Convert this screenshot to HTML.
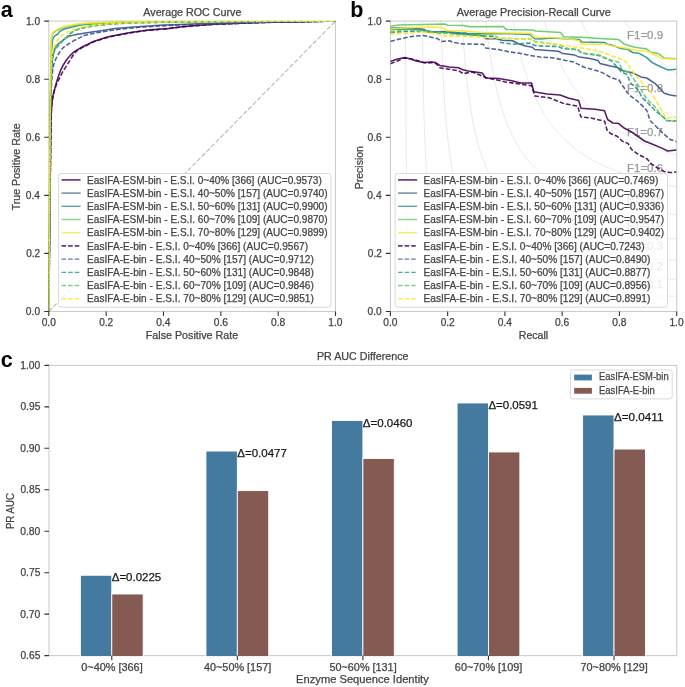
<!DOCTYPE html>
<html><head><meta charset="utf-8"><style>html,body{margin:0;padding:0;background:#fff;overflow:hidden}svg{display:block}</style></head>
<body>
<svg width="685" height="687" viewBox="0 0 685 687" font-family='"Liberation Sans", sans-serif'>
<rect width="685" height="687" fill="#ffffff"/>
<defs>
<clipPath id="ca"><rect x="48.8" y="21.1" width="286.7" height="290.4"/></clipPath>
<clipPath id="cb"><rect x="390.4" y="21.1" width="286.3" height="290.4"/></clipPath>
<filter id="bl" x="0" y="0" width="1" height="1"><feGaussianBlur stdDeviation="0.35"/></filter>
</defs>
<g filter="url(#bl)"><rect width="685" height="687" fill="#ffffff"/>
<text x="0.7" y="16.7" font-size="21.5" font-weight="bold" fill="#000">a</text>
<text x="350.2" y="16.5" font-size="21.5" font-weight="bold" fill="#000">b</text>
<text x="0.8" y="366.8" font-size="21.5" font-weight="bold" fill="#000">c</text>
<rect x="48.8" y="21.1" width="286.7" height="290.4" fill="none" stroke="#cccccc" stroke-width="1.1"/>
<path d="M48.8 311.5 L335.5 21.1" stroke="#bdbdbd" stroke-width="1.2" stroke-dasharray="4.6 2" fill="none"/>
<g clip-path="url(#ca)" fill="none" stroke-width="1.55" stroke-linejoin="round" stroke-opacity="0.9">
<path d="M48.8 311.5 C48.9 302.92 49.17 281.92 49.4 260 C49.63 238.08 49.97 201.67 50.2 180 C50.43 158.33 50.63 141.33 50.8 130 C50.97 118.67 50.9 117.33 51.2 112 C51.5 106.67 51.92 102.23 52.6 98 C53.28 93.77 54.45 89.85 55.3 86.6 C56.15 83.35 56.72 81.42 57.7 78.5 C58.68 75.58 59.85 72.02 61.2 69.1 C62.55 66.18 64.25 63.32 65.8 61 C67.35 58.68 68.95 56.85 70.5 55.2 C72.05 53.55 73.35 52.33 75.1 51.1 C76.85 49.87 79.05 48.85 81 47.8 C82.95 46.75 84.87 45.77 86.8 44.8 C88.73 43.83 90.57 42.83 92.6 42 C94.63 41.17 96.35 40.67 99 39.8 C101.65 38.93 103.77 37.93 108.5 36.8 C113.23 35.67 121.08 34.1 127.4 33 C133.72 31.9 140.07 30.92 146.4 30.2 C152.73 29.48 159.07 29.33 165.4 28.7 C171.73 28.07 176.97 27.1 184.4 26.4 C191.83 25.7 202.28 24.97 210 24.5 C217.72 24.03 222.37 23.93 230.7 23.6 C239.03 23.27 248.45 22.8 260 22.5 C271.55 22.2 287.42 22.03 300 21.8 C312.58 21.57 329.58 21.22 335.5 21.1" stroke="#440154"/>
<path d="M48.8 311.5 C48.88 301.25 49.1 276.92 49.3 250 C49.5 223.08 49.78 175 50 150 C50.22 125 50.38 112.5 50.6 100 C50.82 87.5 51.02 81.67 51.3 75 C51.58 68.33 51.88 63.92 52.3 60 C52.72 56.08 53.07 53.93 53.8 51.5 C54.53 49.07 55.53 47 56.7 45.4 C57.87 43.8 59.35 43.07 60.8 41.9 C62.25 40.73 63.95 39.38 65.4 38.4 C66.85 37.42 67.55 36.68 69.5 36 C71.45 35.32 74.52 34.78 77.1 34.3 C79.68 33.82 81.35 33.63 85 33.1 C88.65 32.57 93.5 31.9 99 31.1 C104.5 30.3 108.52 29.25 118 28.3 C127.48 27.35 140.57 26.2 155.9 25.4 C171.23 24.6 192.65 24.03 210 23.5 C227.35 22.97 239.08 22.6 260 22.2 C280.92 21.8 322.92 21.28 335.5 21.1" stroke="#3b528b"/>
<path d="M48.8 311.5 C48.88 301.25 49.12 276.92 49.3 250 C49.48 223.08 49.7 175 49.9 150 C50.1 125 50.28 114.17 50.5 100 C50.72 85.83 50.97 73.67 51.2 65 C51.43 56.33 51.67 52.17 51.9 48 C52.13 43.83 52.2 41.97 52.6 40 C53 38.03 53.43 37.18 54.3 36.2 C55.17 35.22 56.92 34.87 57.8 34.1 C58.68 33.33 58.52 32.45 59.6 31.6 C60.68 30.75 62.35 29.72 64.3 29 C66.25 28.28 67.85 28.03 71.3 27.3 C74.75 26.57 76.88 25.4 85 24.6 C93.12 23.8 100.83 23 120 22.5 C139.17 22 164.08 21.83 200 21.6 C235.92 21.37 312.92 21.18 335.5 21.1" stroke="#21918c"/>
<path d="M48.8 311.5 C48.88 301.25 49.12 276.92 49.3 250 C49.48 223.08 49.72 175 49.9 150 C50.08 125 50.23 115 50.4 100 C50.57 85 50.73 70 50.9 60 C51.07 50 51.13 44.33 51.4 40 C51.67 35.67 51.62 35.6 52.5 34 C53.38 32.4 55.03 31.4 56.7 30.4 C58.37 29.4 60.55 28.67 62.5 28 C64.45 27.33 66.45 26.87 68.4 26.4 C70.35 25.93 71.43 25.63 74.2 25.2 C76.97 24.77 77.37 24.28 85 23.8 C92.63 23.32 100.83 22.68 120 22.3 C139.17 21.92 164.08 21.7 200 21.5 C235.92 21.3 312.92 21.17 335.5 21.1" stroke="#5ec962"/>
<path d="M48.8 311.5 C48.88 301.25 49.12 276.92 49.3 250 C49.48 223.08 49.72 175 49.9 150 C50.08 125 50.23 115 50.4 100 C50.57 85 50.75 69.67 50.9 60 C51.05 50.33 51.08 46.42 51.3 42 C51.52 37.58 51.3 35.57 52.2 33.5 C53.1 31.43 54.98 30.63 56.7 29.6 C58.42 28.57 60.55 27.93 62.5 27.3 C64.45 26.67 66.45 26.25 68.4 25.8 C70.35 25.35 71.43 25.03 74.2 24.6 C76.97 24.17 77.37 23.63 85 23.2 C92.63 22.77 100.83 22.3 120 22 C139.17 21.7 164.08 21.55 200 21.4 C235.92 21.25 312.92 21.15 335.5 21.1" stroke="#fde725"/>
<path d="M48.8 311.5 C48.9 302.92 49.15 281.92 49.4 260 C49.65 238.08 50.03 201.67 50.3 180 C50.57 158.33 50.75 142.45 51 130 C51.25 117.55 51.27 111.75 51.8 105.3 C52.33 98.85 53.22 95.18 54.2 91.3 C55.18 87.42 56.35 85.12 57.7 82 C59.05 78.88 60.57 75.72 62.3 72.6 C64.03 69.48 66.15 66.4 68.1 63.3 C70.05 60.2 72.43 56.13 74 54 C75.57 51.87 76.33 51.47 77.5 50.5 C78.67 49.53 79.45 49.05 81 48.2 C82.55 47.35 84.87 46.4 86.8 45.4 C88.73 44.4 90.57 43.08 92.6 42.2 C94.63 41.32 96.35 40.93 99 40.1 C101.65 39.27 103.77 38.32 108.5 37.2 C113.23 36.08 121.08 34.52 127.4 33.4 C133.72 32.28 140.07 31.25 146.4 30.5 C152.73 29.75 159.07 29.53 165.4 28.9 C171.73 28.27 176.97 27.38 184.4 26.7 C191.83 26.02 202.28 25.28 210 24.8 C217.72 24.32 222.37 24.17 230.7 23.8 C239.03 23.43 248.45 22.93 260 22.6 C271.55 22.27 287.42 22.05 300 21.8 C312.58 21.55 329.58 21.22 335.5 21.1" stroke="#440154" stroke-dasharray="4.6 2"/>
<path d="M48.8 311.5 C48.88 301.25 49.1 275.25 49.3 250 C49.5 224.75 49.78 181.67 50 160 C50.22 138.33 50.38 131.67 50.6 120 C50.82 108.33 51 97.9 51.3 90 C51.6 82.1 51.92 77.05 52.4 72.6 C52.88 68.15 53.32 66.2 54.2 63.3 C55.08 60.4 56.33 57.67 57.7 55.2 C59.07 52.73 60.85 50.2 62.4 48.5 C63.95 46.8 65.07 46.32 67 45 C68.93 43.68 71.83 41.83 74 40.6 C76.17 39.37 78.17 38.5 80 37.6 C81.83 36.7 81.67 36.1 85 35.2 C88.33 34.3 94.17 33.18 100 32.2 C105.83 31.22 110.67 30.3 120 29.3 C129.33 28.3 141 27.08 156 26.2 C171 25.32 192.67 24.62 210 24 C227.33 23.38 239.08 22.98 260 22.5 C280.92 22.02 322.92 21.33 335.5 21.1" stroke="#3b528b" stroke-dasharray="4.6 2"/>
<path d="M48.8 311.5 C48.88 301.25 49.12 276.92 49.3 250 C49.48 223.08 49.7 175 49.9 150 C50.1 125 50.28 112.5 50.5 100 C50.72 87.5 50.9 81.67 51.2 75 C51.5 68.33 51.73 64 52.3 60 C52.87 56 53.58 53.4 54.6 51 C55.62 48.6 57.08 47.22 58.4 45.6 C59.72 43.98 61.13 42.7 62.5 41.3 C63.87 39.9 65.13 38.62 66.6 37.2 C68.07 35.78 69.55 34.03 71.3 32.8 C73.05 31.57 74.82 30.68 77.1 29.8 C79.38 28.92 81.18 28.27 85 27.5 C88.82 26.73 92.5 25.93 100 25.2 C107.5 24.47 113.33 23.67 130 23.1 C146.67 22.53 165.75 22.13 200 21.8 C234.25 21.47 312.92 21.22 335.5 21.1" stroke="#21918c" stroke-dasharray="4.6 2"/>
<path d="M48.8 311.5 C48.88 301.25 49.12 276.92 49.3 250 C49.48 223.08 49.7 175 49.9 150 C50.1 125 50.3 113 50.5 100 C50.7 87 50.88 79.08 51.1 72 C51.32 64.92 51.28 61.08 51.8 57.5 C52.32 53.92 53.22 52.63 54.2 50.5 C55.18 48.37 56.32 46.37 57.7 44.7 C59.08 43.03 61.02 41.78 62.5 40.5 C63.98 39.22 65.13 38.33 66.6 37 C68.07 35.67 69.55 33.73 71.3 32.5 C73.05 31.27 74.82 30.47 77.1 29.6 C79.38 28.73 81.18 28.07 85 27.3 C88.82 26.53 92.5 25.72 100 25 C107.5 24.28 113.33 23.55 130 23 C146.67 22.45 165.75 22.02 200 21.7 C234.25 21.38 312.92 21.2 335.5 21.1" stroke="#5ec962" stroke-dasharray="4.6 2"/>
<path d="M48.8 311.5 C48.88 301.25 49.12 276.92 49.3 250 C49.48 223.08 49.7 176.67 49.9 150 C50.1 123.33 50.3 103.67 50.5 90 C50.7 76.33 50.78 74.33 51.1 68 C51.42 61.67 51.95 55.38 52.4 52 C52.85 48.62 53.08 49.48 53.8 47.7 C54.52 45.92 55.53 43.15 56.7 41.3 C57.87 39.45 59.35 37.97 60.8 36.6 C62.25 35.23 63.65 34.17 65.4 33.1 C67.15 32.03 68.87 31.12 71.3 30.2 C73.73 29.28 77.72 28.18 80 27.6 C82.28 27.02 81.67 27.22 85 26.7 C88.33 26.18 92.5 25.15 100 24.5 C107.5 23.85 113.33 23.27 130 22.8 C146.67 22.33 165.75 21.98 200 21.7 C234.25 21.42 312.92 21.2 335.5 21.1" stroke="#fde725" stroke-dasharray="4.6 2"/>
</g>
<rect x="390.4" y="21.1" width="286.3" height="290.4" fill="none" stroke="#cccccc" stroke-width="1.1"/>
<g clip-path="url(#cb)"><path d="M405.47 21.1 L406.15 151.95 L406.83 198.61 L407.51 222.55 L408.19 237.12 L408.87 246.92 L409.55 253.96 L410.23 259.27 L410.91 263.41 L411.59 266.73 L412.27 269.45 L412.95 271.73 L413.63 273.65 L414.31 275.31 L414.99 276.74 L415.67 278 L416.34 279.11 L417.02 280.09 L417.7 280.98 L418.38 281.77 L419.06 282.49 L419.74 283.15 L420.42 283.75 L421.1 284.3 L421.78 284.8 L422.46 285.27 L423.14 285.7 L423.82 286.1 L424.5 286.48 L425.18 286.82 L425.86 287.15 L426.54 287.46 L427.22 287.74 L427.9 288.02 L428.58 288.27 L429.26 288.51 L429.94 288.74 L430.62 288.96 L431.3 289.16 L431.98 289.36 L432.66 289.54 L433.34 289.72 L434.02 289.89 L434.7 290.05 L435.38 290.2 L436.06 290.35 L436.74 290.49 L437.42 290.62 L438.1 290.75 L438.78 290.88 L439.46 291 L440.14 291.11 L440.82 291.22 L441.5 291.33 L442.18 291.43 L442.86 291.53 L443.54 291.63 L444.22 291.72 L444.9 291.81 L445.58 291.89 L446.26 291.98 L446.93 292.06 L447.61 292.13 L448.29 292.21 L448.97 292.28 L449.65 292.35 L450.33 292.42 L451.01 292.49 L451.69 292.56 L452.37 292.62 L453.05 292.68 L453.73 292.74 L454.41 292.8 L455.09 292.85 L455.77 292.91 L456.45 292.96 L457.13 293.01 L457.81 293.07 L458.49 293.11 L459.17 293.16 L459.85 293.21 L460.53 293.26 L461.21 293.3 L461.89 293.34 L462.57 293.39 L463.25 293.43 L463.93 293.47 L464.61 293.51 L465.29 293.55 L465.97 293.59 L466.65 293.62 L467.33 293.66 L468.01 293.7 L468.69 293.73 L469.37 293.77 L470.05 293.8 L470.73 293.83 L471.41 293.86 L472.09 293.89 L472.77 293.93 L473.45 293.96 L474.13 293.99 L474.81 294.01 L475.49 294.04 L476.17 294.07 L476.85 294.1 L477.52 294.13 L478.2 294.15 L478.88 294.18 L479.56 294.2 L480.24 294.23 L480.92 294.25 L481.6 294.28 L482.28 294.3 L482.96 294.32 L483.64 294.35 L484.32 294.37 L485 294.39 L485.68 294.41 L486.36 294.43 L487.04 294.46 L487.72 294.48 L488.4 294.5 L489.08 294.52 L489.76 294.54 L490.44 294.56 L491.12 294.57 L491.8 294.59 L492.48 294.61 L493.16 294.63 L493.84 294.65 L494.52 294.67 L495.2 294.68 L495.88 294.7 L496.56 294.72 L497.24 294.73 L497.92 294.75 L498.6 294.77 L499.28 294.78 L499.96 294.8 L500.64 294.81 L501.32 294.83 L502 294.84 L502.68 294.86 L503.36 294.87 L504.04 294.89 L504.72 294.9 L505.4 294.92 L506.08 294.93 L506.76 294.94 L507.44 294.96 L508.11 294.97 L508.79 294.98 L509.47 295 L510.15 295.01 L510.83 295.02 L511.51 295.03 L512.19 295.05 L512.87 295.06 L513.55 295.07 L514.23 295.08 L514.91 295.09 L515.59 295.11 L516.27 295.12 L516.95 295.13 L517.63 295.14 L518.31 295.15 L518.99 295.16 L519.67 295.17 L520.35 295.18 L521.03 295.19 L521.71 295.2 L522.39 295.21 L523.07 295.22 L523.75 295.23 L524.43 295.24 L525.11 295.25 L525.79 295.26 L526.47 295.27 L527.15 295.28 L527.83 295.29 L528.51 295.3 L529.19 295.31 L529.87 295.32 L530.55 295.33 L531.23 295.34 L531.91 295.35 L532.59 295.35 L533.27 295.36 L533.95 295.37 L534.63 295.38 L535.31 295.39 L535.99 295.4 L536.67 295.4 L537.35 295.41 L538.03 295.42 L538.7 295.43 L539.38 295.44 L540.06 295.44 L540.74 295.45 L541.42 295.46 L542.1 295.47 L542.78 295.47 L543.46 295.48 L544.14 295.49 L544.82 295.5 L545.5 295.5 L546.18 295.51 L546.86 295.52 L547.54 295.52 L548.22 295.53 L548.9 295.54 L549.58 295.55 L550.26 295.55 L550.94 295.56 L551.62 295.57 L552.3 295.57 L552.98 295.58 L553.66 295.58 L554.34 295.59 L555.02 295.6 L555.7 295.6 L556.38 295.61 L557.06 295.62 L557.74 295.62 L558.42 295.63 L559.1 295.63 L559.78 295.64 L560.46 295.65 L561.14 295.65 L561.82 295.66 L562.5 295.66 L563.18 295.67 L563.86 295.67 L564.54 295.68 L565.22 295.68 L565.9 295.69 L566.58 295.7 L567.26 295.7 L567.94 295.71 L568.62 295.71 L569.3 295.72 L569.97 295.72 L570.65 295.73 L571.33 295.73 L572.01 295.74 L572.69 295.74 L573.37 295.75 L574.05 295.75 L574.73 295.76 L575.41 295.76 L576.09 295.77 L576.77 295.77 L577.45 295.78 L578.13 295.78 L578.81 295.79 L579.49 295.79 L580.17 295.8 L580.85 295.8 L581.53 295.8 L582.21 295.81 L582.89 295.81 L583.57 295.82 L584.25 295.82 L584.93 295.83 L585.61 295.83 L586.29 295.84 L586.97 295.84 L587.65 295.84 L588.33 295.85 L589.01 295.85 L589.69 295.86 L590.37 295.86 L591.05 295.86 L591.73 295.87 L592.41 295.87 L593.09 295.88 L593.77 295.88 L594.45 295.88 L595.13 295.89 L595.81 295.89 L596.49 295.9 L597.17 295.9 L597.85 295.9 L598.53 295.91 L599.21 295.91 L599.89 295.92 L600.56 295.92 L601.24 295.92 L601.92 295.93 L602.6 295.93 L603.28 295.93 L603.96 295.94 L604.64 295.94 L605.32 295.94 L606 295.95 L606.68 295.95 L607.36 295.95 L608.04 295.96 L608.72 295.96 L609.4 295.96 L610.08 295.97 L610.76 295.97 L611.44 295.97 L612.12 295.98 L612.8 295.98 L613.48 295.98 L614.16 295.99 L614.84 295.99 L615.52 295.99 L616.2 296 L616.88 296 L617.56 296 L618.24 296.01 L618.92 296.01 L619.6 296.01 L620.28 296.02 L620.96 296.02 L621.64 296.02 L622.32 296.02 L623 296.03 L623.68 296.03 L624.36 296.03 L625.04 296.04 L625.72 296.04 L626.4 296.04 L627.08 296.05 L627.76 296.05 L628.44 296.05 L629.12 296.05 L629.8 296.06 L630.48 296.06 L631.15 296.06 L631.83 296.06 L632.51 296.07 L633.19 296.07 L633.87 296.07 L634.55 296.08 L635.23 296.08 L635.91 296.08 L636.59 296.08 L637.27 296.09 L637.95 296.09 L638.63 296.09 L639.31 296.09 L639.99 296.1 L640.67 296.1 L641.35 296.1 L642.03 296.1 L642.71 296.11 L643.39 296.11 L644.07 296.11 L644.75 296.11 L645.43 296.12 L646.11 296.12 L646.79 296.12 L647.47 296.12 L648.15 296.13 L648.83 296.13 L649.51 296.13 L650.19 296.13 L650.87 296.14 L651.55 296.14 L652.23 296.14 L652.91 296.14 L653.59 296.14 L654.27 296.15 L654.95 296.15 L655.63 296.15 L656.31 296.15 L656.99 296.16 L657.67 296.16 L658.35 296.16 L659.03 296.16 L659.71 296.16 L660.39 296.17 L661.07 296.17 L661.74 296.17 L662.42 296.17 L663.1 296.18 L663.78 296.18 L664.46 296.18 L665.14 296.18 L665.82 296.18 L666.5 296.19 L667.18 296.19 L667.86 296.19 L668.54 296.19 L669.22 296.19 L669.9 296.2 L670.58 296.2 L671.26 296.2 L671.94 296.2 L672.62 296.2 L673.3 296.21 L673.98 296.21 L674.66 296.21 L675.34 296.21 L676.02 296.21 L676.7 296.22 M422.21 21.1 L422.85 64.75 L423.49 95.91 L424.12 119.26 L424.76 137.42 L425.4 151.94 L426.04 163.82 L426.68 173.72 L427.31 182.09 L427.95 189.27 L428.59 195.49 L429.23 200.93 L429.86 205.73 L430.5 209.99 L431.14 213.81 L431.78 217.24 L432.42 220.35 L433.05 223.17 L433.69 225.75 L434.33 228.12 L434.97 230.29 L435.61 232.3 L436.24 234.16 L436.88 235.88 L437.52 237.49 L438.16 238.99 L438.79 240.39 L439.43 241.71 L440.07 242.94 L440.71 244.11 L441.35 245.2 L441.98 246.24 L442.62 247.22 L443.26 248.15 L443.9 249.03 L444.53 249.86 L445.17 250.66 L445.81 251.41 L446.45 252.14 L447.09 252.83 L447.72 253.48 L448.36 254.11 L449 254.72 L449.64 255.3 L450.28 255.85 L450.91 256.38 L451.55 256.89 L452.19 257.39 L452.83 257.86 L453.46 258.31 L454.1 258.75 L454.74 259.18 L455.38 259.59 L456.02 259.98 L456.65 260.36 L457.29 260.73 L457.93 261.09 L458.57 261.43 L459.2 261.76 L459.84 262.09 L460.48 262.4 L461.12 262.71 L461.76 263 L462.39 263.29 L463.03 263.56 L463.67 263.83 L464.31 264.1 L464.94 264.35 L465.58 264.6 L466.22 264.84 L466.86 265.08 L467.5 265.31 L468.13 265.53 L468.77 265.75 L469.41 265.96 L470.05 266.16 L470.69 266.36 L471.32 266.56 L471.96 266.75 L472.6 266.94 L473.24 267.12 L473.87 267.3 L474.51 267.47 L475.15 267.65 L475.79 267.81 L476.43 267.97 L477.06 268.13 L477.7 268.29 L478.34 268.44 L478.98 268.59 L479.61 268.74 L480.25 268.88 L480.89 269.02 L481.53 269.16 L482.17 269.29 L482.8 269.42 L483.44 269.55 L484.08 269.68 L484.72 269.8 L485.35 269.92 L485.99 270.04 L486.63 270.16 L487.27 270.28 L487.91 270.39 L488.54 270.5 L489.18 270.61 L489.82 270.72 L490.46 270.82 L491.1 270.92 L491.73 271.02 L492.37 271.12 L493.01 271.22 L493.65 271.32 L494.28 271.41 L494.92 271.5 L495.56 271.6 L496.2 271.69 L496.84 271.77 L497.47 271.86 L498.11 271.95 L498.75 272.03 L499.39 272.11 L500.02 272.19 L500.66 272.28 L501.3 272.35 L501.94 272.43 L502.58 272.51 L503.21 272.58 L503.85 272.66 L504.49 272.73 L505.13 272.8 L505.77 272.87 L506.4 272.94 L507.04 273.01 L507.68 273.08 L508.32 273.15 L508.95 273.21 L509.59 273.28 L510.23 273.34 L510.87 273.41 L511.51 273.47 L512.14 273.53 L512.78 273.59 L513.42 273.65 L514.06 273.71 L514.69 273.77 L515.33 273.83 L515.97 273.88 L516.61 273.94 L517.25 273.99 L517.88 274.05 L518.52 274.1 L519.16 274.16 L519.8 274.21 L520.43 274.26 L521.07 274.31 L521.71 274.36 L522.35 274.41 L522.99 274.46 L523.62 274.51 L524.26 274.56 L524.9 274.61 L525.54 274.65 L526.18 274.7 L526.81 274.75 L527.45 274.79 L528.09 274.84 L528.73 274.88 L529.36 274.92 L530 274.97 L530.64 275.01 L531.28 275.05 L531.92 275.09 L532.55 275.14 L533.19 275.18 L533.83 275.22 L534.47 275.26 L535.1 275.3 L535.74 275.34 L536.38 275.38 L537.02 275.41 L537.66 275.45 L538.29 275.49 L538.93 275.53 L539.57 275.56 L540.21 275.6 L540.85 275.63 L541.48 275.67 L542.12 275.71 L542.76 275.74 L543.4 275.77 L544.03 275.81 L544.67 275.84 L545.31 275.88 L545.95 275.91 L546.59 275.94 L547.22 275.97 L547.86 276.01 L548.5 276.04 L549.14 276.07 L549.77 276.1 L550.41 276.13 L551.05 276.16 L551.69 276.19 L552.33 276.22 L552.96 276.25 L553.6 276.28 L554.24 276.31 L554.88 276.34 L555.51 276.37 L556.15 276.4 L556.79 276.42 L557.43 276.45 L558.07 276.48 L558.7 276.51 L559.34 276.53 L559.98 276.56 L560.62 276.59 L561.26 276.61 L561.89 276.64 L562.53 276.67 L563.17 276.69 L563.81 276.72 L564.44 276.74 L565.08 276.77 L565.72 276.79 L566.36 276.82 L567 276.84 L567.63 276.87 L568.27 276.89 L568.91 276.91 L569.55 276.94 L570.18 276.96 L570.82 276.98 L571.46 277.01 L572.1 277.03 L572.74 277.05 L573.37 277.07 L574.01 277.1 L574.65 277.12 L575.29 277.14 L575.92 277.16 L576.56 277.18 L577.2 277.2 L577.84 277.22 L578.48 277.25 L579.11 277.27 L579.75 277.29 L580.39 277.31 L581.03 277.33 L581.67 277.35 L582.3 277.37 L582.94 277.39 L583.58 277.41 L584.22 277.43 L584.85 277.45 L585.49 277.47 L586.13 277.48 L586.77 277.5 L587.41 277.52 L588.04 277.54 L588.68 277.56 L589.32 277.58 L589.96 277.6 L590.59 277.61 L591.23 277.63 L591.87 277.65 L592.51 277.67 L593.15 277.68 L593.78 277.7 L594.42 277.72 L595.06 277.74 L595.7 277.75 L596.34 277.77 L596.97 277.79 L597.61 277.8 L598.25 277.82 L598.89 277.84 L599.52 277.85 L600.16 277.87 L600.8 277.89 L601.44 277.9 L602.08 277.92 L602.71 277.93 L603.35 277.95 L603.99 277.96 L604.63 277.98 L605.26 278 L605.9 278.01 L606.54 278.03 L607.18 278.04 L607.82 278.06 L608.45 278.07 L609.09 278.09 L609.73 278.1 L610.37 278.11 L611 278.13 L611.64 278.14 L612.28 278.16 L612.92 278.17 L613.56 278.19 L614.19 278.2 L614.83 278.21 L615.47 278.23 L616.11 278.24 L616.75 278.25 L617.38 278.27 L618.02 278.28 L618.66 278.3 L619.3 278.31 L619.93 278.32 L620.57 278.33 L621.21 278.35 L621.85 278.36 L622.49 278.37 L623.12 278.39 L623.76 278.4 L624.4 278.41 L625.04 278.42 L625.67 278.44 L626.31 278.45 L626.95 278.46 L627.59 278.47 L628.23 278.49 L628.86 278.5 L629.5 278.51 L630.14 278.52 L630.78 278.53 L631.42 278.55 L632.05 278.56 L632.69 278.57 L633.33 278.58 L633.97 278.59 L634.6 278.6 L635.24 278.61 L635.88 278.63 L636.52 278.64 L637.16 278.65 L637.79 278.66 L638.43 278.67 L639.07 278.68 L639.71 278.69 L640.34 278.7 L640.98 278.71 L641.62 278.72 L642.26 278.74 L642.9 278.75 L643.53 278.76 L644.17 278.77 L644.81 278.78 L645.45 278.79 L646.08 278.8 L646.72 278.81 L647.36 278.82 L648 278.83 L648.64 278.84 L649.27 278.85 L649.91 278.86 L650.55 278.87 L651.19 278.88 L651.83 278.89 L652.46 278.9 L653.1 278.91 L653.74 278.92 L654.38 278.93 L655.01 278.94 L655.65 278.95 L656.29 278.96 L656.93 278.97 L657.57 278.97 L658.2 278.98 L658.84 278.99 L659.48 279 L660.12 279.01 L660.75 279.02 L661.39 279.03 L662.03 279.04 L662.67 279.05 L663.31 279.06 L663.94 279.07 L664.58 279.07 L665.22 279.08 L665.86 279.09 L666.49 279.1 L667.13 279.11 L667.77 279.12 L668.41 279.13 L669.05 279.13 L669.68 279.14 L670.32 279.15 L670.96 279.16 L671.6 279.17 L672.24 279.18 L672.87 279.18 L673.51 279.19 L674.15 279.2 L674.79 279.21 L675.42 279.22 L676.06 279.23 L676.7 279.23 M440.92 21.1 L441.51 38.95 L442.11 54.4 L442.7 67.89 L443.29 79.78 L443.88 90.34 L444.47 99.77 L445.06 108.26 L445.65 115.92 L446.24 122.89 L446.83 129.24 L447.42 135.07 L448.01 140.42 L448.61 145.36 L449.2 149.93 L449.79 154.17 L450.38 158.11 L450.97 161.8 L451.56 165.24 L452.15 168.47 L452.74 171.5 L453.33 174.35 L453.92 177.04 L454.51 179.57 L455.11 181.97 L455.7 184.25 L456.29 186.4 L456.88 188.45 L457.47 190.4 L458.06 192.25 L458.65 194.02 L459.24 195.7 L459.83 197.32 L460.42 198.86 L461.01 200.33 L461.61 201.75 L462.2 203.1 L462.79 204.4 L463.38 205.65 L463.97 206.86 L464.56 208.01 L465.15 209.12 L465.74 210.2 L466.33 211.23 L466.92 212.23 L467.51 213.19 L468.11 214.12 L468.7 215.02 L469.29 215.89 L469.88 216.74 L470.47 217.55 L471.06 218.34 L471.65 219.11 L472.24 219.85 L472.83 220.57 L473.42 221.27 L474.01 221.94 L474.61 222.6 L475.2 223.24 L475.79 223.86 L476.38 224.47 L476.97 225.06 L477.56 225.63 L478.15 226.19 L478.74 226.73 L479.33 227.26 L479.92 227.78 L480.52 228.28 L481.11 228.77 L481.7 229.25 L482.29 229.72 L482.88 230.17 L483.47 230.62 L484.06 231.05 L484.65 231.48 L485.24 231.89 L485.83 232.3 L486.42 232.7 L487.02 233.08 L487.61 233.46 L488.2 233.84 L488.79 234.2 L489.38 234.56 L489.97 234.9 L490.56 235.24 L491.15 235.58 L491.74 235.91 L492.33 236.23 L492.92 236.54 L493.52 236.85 L494.11 237.15 L494.7 237.45 L495.29 237.74 L495.88 238.03 L496.47 238.31 L497.06 238.58 L497.65 238.85 L498.24 239.11 L498.83 239.37 L499.42 239.63 L500.02 239.88 L500.61 240.13 L501.2 240.37 L501.79 240.61 L502.38 240.84 L502.97 241.07 L503.56 241.3 L504.15 241.52 L504.74 241.74 L505.33 241.95 L505.92 242.17 L506.52 242.37 L507.11 242.58 L507.7 242.78 L508.29 242.98 L508.88 243.17 L509.47 243.37 L510.06 243.56 L510.65 243.74 L511.24 243.93 L511.83 244.11 L512.42 244.28 L513.02 244.46 L513.61 244.63 L514.2 244.8 L514.79 244.97 L515.38 245.14 L515.97 245.3 L516.56 245.46 L517.15 245.62 L517.74 245.77 L518.33 245.93 L518.92 246.08 L519.52 246.23 L520.11 246.38 L520.7 246.52 L521.29 246.67 L521.88 246.81 L522.47 246.95 L523.06 247.09 L523.65 247.23 L524.24 247.36 L524.83 247.49 L525.42 247.62 L526.02 247.75 L526.61 247.88 L527.2 248.01 L527.79 248.13 L528.38 248.26 L528.97 248.38 L529.56 248.5 L530.15 248.62 L530.74 248.73 L531.33 248.85 L531.92 248.96 L532.52 249.08 L533.11 249.19 L533.7 249.3 L534.29 249.41 L534.88 249.52 L535.47 249.62 L536.06 249.73 L536.65 249.83 L537.24 249.94 L537.83 250.04 L538.43 250.14 L539.02 250.24 L539.61 250.34 L540.2 250.43 L540.79 250.53 L541.38 250.62 L541.97 250.72 L542.56 250.81 L543.15 250.9 L543.74 251 L544.33 251.09 L544.93 251.17 L545.52 251.26 L546.11 251.35 L546.7 251.44 L547.29 251.52 L547.88 251.61 L548.47 251.69 L549.06 251.77 L549.65 251.86 L550.24 251.94 L550.83 252.02 L551.43 252.1 L552.02 252.18 L552.61 252.25 L553.2 252.33 L553.79 252.41 L554.38 252.48 L554.97 252.56 L555.56 252.63 L556.15 252.71 L556.74 252.78 L557.33 252.85 L557.93 252.92 L558.52 253 L559.11 253.07 L559.7 253.13 L560.29 253.2 L560.88 253.27 L561.47 253.34 L562.06 253.41 L562.65 253.47 L563.24 253.54 L563.83 253.6 L564.43 253.67 L565.02 253.73 L565.61 253.8 L566.2 253.86 L566.79 253.92 L567.38 253.98 L567.97 254.04 L568.56 254.11 L569.15 254.17 L569.74 254.23 L570.33 254.28 L570.93 254.34 L571.52 254.4 L572.11 254.46 L572.7 254.52 L573.29 254.57 L573.88 254.63 L574.47 254.68 L575.06 254.74 L575.65 254.79 L576.24 254.85 L576.83 254.9 L577.43 254.96 L578.02 255.01 L578.61 255.06 L579.2 255.11 L579.79 255.17 L580.38 255.22 L580.97 255.27 L581.56 255.32 L582.15 255.37 L582.74 255.42 L583.33 255.47 L583.93 255.52 L584.52 255.57 L585.11 255.61 L585.7 255.66 L586.29 255.71 L586.88 255.76 L587.47 255.8 L588.06 255.85 L588.65 255.9 L589.24 255.94 L589.83 255.99 L590.43 256.03 L591.02 256.08 L591.61 256.12 L592.2 256.16 L592.79 256.21 L593.38 256.25 L593.97 256.29 L594.56 256.34 L595.15 256.38 L595.74 256.42 L596.34 256.46 L596.93 256.5 L597.52 256.55 L598.11 256.59 L598.7 256.63 L599.29 256.67 L599.88 256.71 L600.47 256.75 L601.06 256.79 L601.65 256.83 L602.24 256.86 L602.84 256.9 L603.43 256.94 L604.02 256.98 L604.61 257.02 L605.2 257.05 L605.79 257.09 L606.38 257.13 L606.97 257.17 L607.56 257.2 L608.15 257.24 L608.74 257.27 L609.34 257.31 L609.93 257.35 L610.52 257.38 L611.11 257.42 L611.7 257.45 L612.29 257.49 L612.88 257.52 L613.47 257.55 L614.06 257.59 L614.65 257.62 L615.24 257.66 L615.84 257.69 L616.43 257.72 L617.02 257.76 L617.61 257.79 L618.2 257.82 L618.79 257.85 L619.38 257.88 L619.97 257.92 L620.56 257.95 L621.15 257.98 L621.74 258.01 L622.34 258.04 L622.93 258.07 L623.52 258.1 L624.11 258.13 L624.7 258.16 L625.29 258.19 L625.88 258.22 L626.47 258.25 L627.06 258.28 L627.65 258.31 L628.24 258.34 L628.84 258.37 L629.43 258.4 L630.02 258.43 L630.61 258.46 L631.2 258.49 L631.79 258.51 L632.38 258.54 L632.97 258.57 L633.56 258.6 L634.15 258.62 L634.74 258.65 L635.34 258.68 L635.93 258.71 L636.52 258.73 L637.11 258.76 L637.7 258.79 L638.29 258.81 L638.88 258.84 L639.47 258.86 L640.06 258.89 L640.65 258.92 L641.24 258.94 L641.84 258.97 L642.43 258.99 L643.02 259.02 L643.61 259.04 L644.2 259.07 L644.79 259.09 L645.38 259.12 L645.97 259.14 L646.56 259.17 L647.15 259.19 L647.74 259.21 L648.34 259.24 L648.93 259.26 L649.52 259.29 L650.11 259.31 L650.7 259.33 L651.29 259.36 L651.88 259.38 L652.47 259.4 L653.06 259.43 L653.65 259.45 L654.25 259.47 L654.84 259.49 L655.43 259.52 L656.02 259.54 L656.61 259.56 L657.2 259.58 L657.79 259.61 L658.38 259.63 L658.97 259.65 L659.56 259.67 L660.15 259.69 L660.75 259.71 L661.34 259.73 L661.93 259.76 L662.52 259.78 L663.11 259.8 L663.7 259.82 L664.29 259.84 L664.88 259.86 L665.47 259.88 L666.06 259.9 L666.65 259.92 L667.25 259.94 L667.84 259.96 L668.43 259.98 L669.02 260 L669.61 260.02 L670.2 260.04 L670.79 260.06 L671.38 260.08 L671.97 260.1 L672.56 260.12 L673.15 260.14 L673.75 260.16 L674.34 260.18 L674.93 260.2 L675.52 260.22 L676.11 260.23 L676.7 260.25 M461.98 21.1 L462.51 29.52 L463.05 37.35 L463.59 44.65 L464.13 51.47 L464.67 57.86 L465.2 63.86 L465.74 69.5 L466.28 74.82 L466.82 79.83 L467.36 84.58 L467.89 89.07 L468.43 93.32 L468.97 97.37 L469.51 101.21 L470.05 104.87 L470.59 108.36 L471.12 111.68 L471.66 114.86 L472.2 117.9 L472.74 120.81 L473.28 123.59 L473.81 126.27 L474.35 128.83 L474.89 131.29 L475.43 133.66 L475.97 135.93 L476.51 138.13 L477.04 140.24 L477.58 142.27 L478.12 144.24 L478.66 146.13 L479.2 147.96 L479.73 149.73 L480.27 151.44 L480.81 153.1 L481.35 154.7 L481.89 156.25 L482.43 157.76 L482.96 159.22 L483.5 160.63 L484.04 162 L484.58 163.34 L485.12 164.63 L485.65 165.89 L486.19 167.11 L486.73 168.3 L487.27 169.46 L487.81 170.58 L488.34 171.68 L488.88 172.74 L489.42 173.78 L489.96 174.8 L490.5 175.79 L491.04 176.75 L491.57 177.69 L492.11 178.61 L492.65 179.5 L493.19 180.37 L493.73 181.23 L494.26 182.06 L494.8 182.88 L495.34 183.67 L495.88 184.45 L496.42 185.21 L496.96 185.96 L497.49 186.68 L498.03 187.4 L498.57 188.1 L499.11 188.78 L499.65 189.45 L500.18 190.1 L500.72 190.75 L501.26 191.37 L501.8 191.99 L502.34 192.6 L502.88 193.19 L503.41 193.77 L503.95 194.34 L504.49 194.9 L505.03 195.45 L505.57 195.99 L506.1 196.52 L506.64 197.04 L507.18 197.55 L507.72 198.05 L508.26 198.54 L508.79 199.02 L509.33 199.5 L509.87 199.96 L510.41 200.42 L510.95 200.87 L511.49 201.31 L512.02 201.75 L512.56 202.18 L513.1 202.6 L513.64 203.01 L514.18 203.42 L514.71 203.82 L515.25 204.22 L515.79 204.61 L516.33 204.99 L516.87 205.37 L517.41 205.74 L517.94 206.1 L518.48 206.46 L519.02 206.82 L519.56 207.16 L520.1 207.51 L520.63 207.85 L521.17 208.18 L521.71 208.51 L522.25 208.83 L522.79 209.15 L523.33 209.47 L523.86 209.78 L524.4 210.08 L524.94 210.39 L525.48 210.68 L526.02 210.98 L526.55 211.27 L527.09 211.55 L527.63 211.83 L528.17 212.11 L528.71 212.39 L529.24 212.66 L529.78 212.92 L530.32 213.19 L530.86 213.45 L531.4 213.7 L531.94 213.96 L532.47 214.21 L533.01 214.46 L533.55 214.7 L534.09 214.94 L534.63 215.18 L535.16 215.41 L535.7 215.65 L536.24 215.88 L536.78 216.1 L537.32 216.33 L537.86 216.55 L538.39 216.77 L538.93 216.98 L539.47 217.2 L540.01 217.41 L540.55 217.62 L541.08 217.82 L541.62 218.03 L542.16 218.23 L542.7 218.43 L543.24 218.62 L543.77 218.82 L544.31 219.01 L544.85 219.2 L545.39 219.39 L545.93 219.58 L546.47 219.76 L547 219.94 L547.54 220.12 L548.08 220.3 L548.62 220.48 L549.16 220.65 L549.69 220.83 L550.23 221 L550.77 221.17 L551.31 221.33 L551.85 221.5 L552.39 221.66 L552.92 221.83 L553.46 221.99 L554 222.15 L554.54 222.3 L555.08 222.46 L555.61 222.61 L556.15 222.77 L556.69 222.92 L557.23 223.07 L557.77 223.22 L558.31 223.36 L558.84 223.51 L559.38 223.65 L559.92 223.8 L560.46 223.94 L561 224.08 L561.53 224.22 L562.07 224.35 L562.61 224.49 L563.15 224.62 L563.69 224.76 L564.23 224.89 L564.76 225.02 L565.3 225.15 L565.84 225.28 L566.38 225.41 L566.92 225.53 L567.45 225.66 L567.99 225.78 L568.53 225.91 L569.07 226.03 L569.61 226.15 L570.14 226.27 L570.68 226.39 L571.22 226.5 L571.76 226.62 L572.3 226.74 L572.84 226.85 L573.37 226.97 L573.91 227.08 L574.45 227.19 L574.99 227.3 L575.53 227.41 L576.06 227.52 L576.6 227.63 L577.14 227.74 L577.68 227.84 L578.22 227.95 L578.76 228.05 L579.29 228.16 L579.83 228.26 L580.37 228.36 L580.91 228.46 L581.45 228.56 L581.98 228.66 L582.52 228.76 L583.06 228.86 L583.6 228.96 L584.14 229.05 L584.68 229.15 L585.21 229.24 L585.75 229.34 L586.29 229.43 L586.83 229.52 L587.37 229.62 L587.9 229.71 L588.44 229.8 L588.98 229.89 L589.52 229.98 L590.06 230.07 L590.59 230.15 L591.13 230.24 L591.67 230.33 L592.21 230.41 L592.75 230.5 L593.29 230.58 L593.82 230.67 L594.36 230.75 L594.9 230.83 L595.44 230.92 L595.98 231 L596.51 231.08 L597.05 231.16 L597.59 231.24 L598.13 231.32 L598.67 231.4 L599.21 231.48 L599.74 231.55 L600.28 231.63 L600.82 231.71 L601.36 231.78 L601.9 231.86 L602.43 231.93 L602.97 232.01 L603.51 232.08 L604.05 232.15 L604.59 232.23 L605.12 232.3 L605.66 232.37 L606.2 232.44 L606.74 232.51 L607.28 232.58 L607.82 232.65 L608.35 232.72 L608.89 232.79 L609.43 232.86 L609.97 232.93 L610.51 233 L611.04 233.07 L611.58 233.13 L612.12 233.2 L612.66 233.26 L613.2 233.33 L613.74 233.4 L614.27 233.46 L614.81 233.52 L615.35 233.59 L615.89 233.65 L616.43 233.71 L616.96 233.78 L617.5 233.84 L618.04 233.9 L618.58 233.96 L619.12 234.02 L619.66 234.08 L620.19 234.14 L620.73 234.2 L621.27 234.26 L621.81 234.32 L622.35 234.38 L622.88 234.44 L623.42 234.5 L623.96 234.56 L624.5 234.61 L625.04 234.67 L625.58 234.73 L626.11 234.78 L626.65 234.84 L627.19 234.9 L627.73 234.95 L628.27 235.01 L628.8 235.06 L629.34 235.12 L629.88 235.17 L630.42 235.22 L630.96 235.28 L631.49 235.33 L632.03 235.38 L632.57 235.43 L633.11 235.49 L633.65 235.54 L634.19 235.59 L634.72 235.64 L635.26 235.69 L635.8 235.74 L636.34 235.79 L636.88 235.84 L637.41 235.89 L637.95 235.94 L638.49 235.99 L639.03 236.04 L639.57 236.09 L640.11 236.14 L640.64 236.19 L641.18 236.24 L641.72 236.28 L642.26 236.33 L642.8 236.38 L643.33 236.42 L643.87 236.47 L644.41 236.52 L644.95 236.56 L645.49 236.61 L646.03 236.65 L646.56 236.7 L647.1 236.75 L647.64 236.79 L648.18 236.83 L648.72 236.88 L649.25 236.92 L649.79 236.97 L650.33 237.01 L650.87 237.05 L651.41 237.1 L651.94 237.14 L652.48 237.18 L653.02 237.23 L653.56 237.27 L654.1 237.31 L654.64 237.35 L655.17 237.39 L655.71 237.44 L656.25 237.48 L656.79 237.52 L657.33 237.56 L657.86 237.6 L658.4 237.64 L658.94 237.68 L659.48 237.72 L660.02 237.76 L660.56 237.8 L661.09 237.84 L661.63 237.88 L662.17 237.92 L662.71 237.96 L663.25 237.99 L663.78 238.03 L664.32 238.07 L664.86 238.11 L665.4 238.15 L665.94 238.18 L666.48 238.22 L667.01 238.26 L667.55 238.3 L668.09 238.33 L668.63 238.37 L669.17 238.41 L669.7 238.44 L670.24 238.48 L670.78 238.51 L671.32 238.55 L671.86 238.59 L672.39 238.62 L672.93 238.66 L673.47 238.69 L674.01 238.73 L674.55 238.76 L675.09 238.8 L675.62 238.83 L676.16 238.87 L676.7 238.9 M485.83 21.1 L486.31 25.38 L486.79 29.5 L487.27 33.46 L487.75 37.27 L488.23 40.95 L488.7 44.49 L489.18 47.91 L489.66 51.21 L490.14 54.39 L490.62 57.48 L491.1 60.46 L491.57 63.34 L492.05 66.13 L492.53 68.84 L493.01 71.46 L493.49 74 L493.97 76.47 L494.44 78.86 L494.92 81.18 L495.4 83.44 L495.88 85.63 L496.36 87.77 L496.84 89.84 L497.31 91.86 L497.79 93.82 L498.27 95.73 L498.75 97.6 L499.23 99.41 L499.71 101.18 L500.18 102.9 L500.66 104.58 L501.14 106.22 L501.62 107.83 L502.1 109.39 L502.58 110.91 L503.05 112.4 L503.53 113.86 L504.01 115.28 L504.49 116.67 L504.97 118.03 L505.45 119.36 L505.92 120.67 L506.4 121.94 L506.88 123.18 L507.36 124.4 L507.84 125.6 L508.32 126.77 L508.79 127.91 L509.27 129.04 L509.75 130.14 L510.23 131.21 L510.71 132.27 L511.19 133.31 L511.66 134.32 L512.14 135.32 L512.62 136.3 L513.1 137.26 L513.58 138.2 L514.06 139.13 L514.54 140.04 L515.01 140.93 L515.49 141.8 L515.97 142.66 L516.45 143.51 L516.93 144.34 L517.41 145.15 L517.88 145.96 L518.36 146.74 L518.84 147.52 L519.32 148.28 L519.8 149.03 L520.28 149.77 L520.75 150.49 L521.23 151.21 L521.71 151.91 L522.19 152.6 L522.67 153.28 L523.15 153.95 L523.62 154.61 L524.1 155.26 L524.58 155.9 L525.06 156.53 L525.54 157.15 L526.02 157.76 L526.49 158.36 L526.97 158.95 L527.45 159.54 L527.93 160.11 L528.41 160.68 L528.89 161.24 L529.36 161.79 L529.84 162.33 L530.32 162.87 L530.8 163.4 L531.28 163.92 L531.76 164.43 L532.23 164.94 L532.71 165.44 L533.19 165.93 L533.67 166.42 L534.15 166.9 L534.63 167.38 L535.1 167.84 L535.58 168.31 L536.06 168.76 L536.54 169.21 L537.02 169.66 L537.5 170.09 L537.97 170.53 L538.45 170.95 L538.93 171.38 L539.41 171.79 L539.89 172.21 L540.37 172.61 L540.85 173.02 L541.32 173.41 L541.8 173.8 L542.28 174.19 L542.76 174.58 L543.24 174.95 L543.72 175.33 L544.19 175.7 L544.67 176.06 L545.15 176.43 L545.63 176.78 L546.11 177.14 L546.59 177.49 L547.06 177.83 L547.54 178.17 L548.02 178.51 L548.5 178.84 L548.98 179.17 L549.46 179.5 L549.93 179.82 L550.41 180.14 L550.89 180.46 L551.37 180.77 L551.85 181.08 L552.33 181.39 L552.8 181.69 L553.28 181.99 L553.76 182.29 L554.24 182.58 L554.72 182.87 L555.2 183.16 L555.67 183.44 L556.15 183.72 L556.63 184 L557.11 184.28 L557.59 184.55 L558.07 184.82 L558.54 185.09 L559.02 185.36 L559.5 185.62 L559.98 185.88 L560.46 186.14 L560.94 186.39 L561.41 186.64 L561.89 186.89 L562.37 187.14 L562.85 187.39 L563.33 187.63 L563.81 187.87 L564.28 188.11 L564.76 188.35 L565.24 188.58 L565.72 188.81 L566.2 189.04 L566.68 189.27 L567.15 189.5 L567.63 189.72 L568.11 189.94 L568.59 190.16 L569.07 190.38 L569.55 190.59 L570.03 190.81 L570.5 191.02 L570.98 191.23 L571.46 191.44 L571.94 191.64 L572.42 191.85 L572.9 192.05 L573.37 192.25 L573.85 192.45 L574.33 192.65 L574.81 192.85 L575.29 193.04 L575.77 193.23 L576.24 193.43 L576.72 193.61 L577.2 193.8 L577.68 193.99 L578.16 194.17 L578.64 194.36 L579.11 194.54 L579.59 194.72 L580.07 194.9 L580.55 195.08 L581.03 195.25 L581.51 195.43 L581.98 195.6 L582.46 195.77 L582.94 195.94 L583.42 196.11 L583.9 196.28 L584.38 196.45 L584.85 196.61 L585.33 196.78 L585.81 196.94 L586.29 197.1 L586.77 197.26 L587.25 197.42 L587.72 197.58 L588.2 197.73 L588.68 197.89 L589.16 198.04 L589.64 198.2 L590.12 198.35 L590.59 198.5 L591.07 198.65 L591.55 198.8 L592.03 198.94 L592.51 199.09 L592.99 199.24 L593.46 199.38 L593.94 199.52 L594.42 199.67 L594.9 199.81 L595.38 199.95 L595.86 200.09 L596.34 200.23 L596.81 200.36 L597.29 200.5 L597.77 200.63 L598.25 200.77 L598.73 200.9 L599.21 201.03 L599.68 201.17 L600.16 201.3 L600.64 201.43 L601.12 201.55 L601.6 201.68 L602.08 201.81 L602.55 201.94 L603.03 202.06 L603.51 202.19 L603.99 202.31 L604.47 202.43 L604.95 202.55 L605.42 202.68 L605.9 202.8 L606.38 202.92 L606.86 203.03 L607.34 203.15 L607.82 203.27 L608.29 203.39 L608.77 203.5 L609.25 203.62 L609.73 203.73 L610.21 203.84 L610.69 203.96 L611.16 204.07 L611.64 204.18 L612.12 204.29 L612.6 204.4 L613.08 204.51 L613.56 204.62 L614.03 204.73 L614.51 204.83 L614.99 204.94 L615.47 205.05 L615.95 205.15 L616.43 205.26 L616.9 205.36 L617.38 205.46 L617.86 205.57 L618.34 205.67 L618.82 205.77 L619.3 205.87 L619.77 205.97 L620.25 206.07 L620.73 206.17 L621.21 206.27 L621.69 206.36 L622.17 206.46 L622.65 206.56 L623.12 206.65 L623.6 206.75 L624.08 206.84 L624.56 206.94 L625.04 207.03 L625.52 207.13 L625.99 207.22 L626.47 207.31 L626.95 207.4 L627.43 207.49 L627.91 207.58 L628.39 207.67 L628.86 207.76 L629.34 207.85 L629.82 207.94 L630.3 208.03 L630.78 208.12 L631.26 208.2 L631.73 208.29 L632.21 208.38 L632.69 208.46 L633.17 208.55 L633.65 208.63 L634.13 208.72 L634.6 208.8 L635.08 208.88 L635.56 208.96 L636.04 209.05 L636.52 209.13 L637 209.21 L637.47 209.29 L637.95 209.37 L638.43 209.45 L638.91 209.53 L639.39 209.61 L639.87 209.69 L640.34 209.77 L640.82 209.85 L641.3 209.92 L641.78 210 L642.26 210.08 L642.74 210.15 L643.21 210.23 L643.69 210.3 L644.17 210.38 L644.65 210.45 L645.13 210.53 L645.61 210.6 L646.08 210.68 L646.56 210.75 L647.04 210.82 L647.52 210.89 L648 210.97 L648.48 211.04 L648.95 211.11 L649.43 211.18 L649.91 211.25 L650.39 211.32 L650.87 211.39 L651.35 211.46 L651.83 211.53 L652.3 211.6 L652.78 211.67 L653.26 211.73 L653.74 211.8 L654.22 211.87 L654.7 211.94 L655.17 212 L655.65 212.07 L656.13 212.14 L656.61 212.2 L657.09 212.27 L657.57 212.33 L658.04 212.4 L658.52 212.46 L659 212.53 L659.48 212.59 L659.96 212.65 L660.44 212.72 L660.91 212.78 L661.39 212.84 L661.87 212.9 L662.35 212.97 L662.83 213.03 L663.31 213.09 L663.78 213.15 L664.26 213.21 L664.74 213.27 L665.22 213.33 L665.7 213.39 L666.18 213.45 L666.65 213.51 L667.13 213.57 L667.61 213.63 L668.09 213.69 L668.57 213.75 L669.05 213.81 L669.52 213.86 L670 213.92 L670.48 213.98 L670.96 214.04 L671.44 214.09 L671.92 214.15 L672.39 214.2 L672.87 214.26 L673.35 214.32 L673.83 214.37 L674.31 214.43 L674.79 214.48 L675.26 214.54 L675.74 214.59 L676.22 214.65 L676.7 214.7 M513.1 21.1 L513.51 23.34 L513.92 25.53 L514.33 27.67 L514.74 29.77 L515.15 31.82 L515.56 33.83 L515.97 35.8 L516.38 37.73 L516.79 39.62 L517.2 41.47 L517.61 43.29 L518.02 45.07 L518.43 46.81 L518.84 48.52 L519.25 50.2 L519.66 51.85 L520.07 53.46 L520.48 55.05 L520.89 56.61 L521.3 58.14 L521.71 59.64 L522.12 61.11 L522.53 62.56 L522.94 63.98 L523.35 65.38 L523.76 66.75 L524.17 68.1 L524.58 69.43 L524.99 70.73 L525.4 72.02 L525.81 73.28 L526.22 74.52 L526.63 75.74 L527.04 76.94 L527.45 78.12 L527.86 79.28 L528.27 80.43 L528.68 81.56 L529.09 82.66 L529.5 83.76 L529.91 84.83 L530.32 85.89 L530.73 86.93 L531.14 87.96 L531.55 88.97 L531.96 89.97 L532.37 90.95 L532.78 91.92 L533.19 92.88 L533.6 93.82 L534.01 94.74 L534.42 95.66 L534.83 96.56 L535.24 97.45 L535.65 98.33 L536.06 99.19 L536.47 100.04 L536.88 100.89 L537.29 101.72 L537.7 102.53 L538.11 103.34 L538.52 104.14 L538.93 104.93 L539.34 105.7 L539.75 106.47 L540.16 107.23 L540.57 107.97 L540.98 108.71 L541.39 109.44 L541.8 110.16 L542.21 110.87 L542.62 111.57 L543.03 112.27 L543.44 112.95 L543.85 113.63 L544.26 114.29 L544.67 114.95 L545.08 115.61 L545.49 116.25 L545.9 116.89 L546.31 117.52 L546.72 118.14 L547.13 118.75 L547.54 119.36 L547.95 119.96 L548.36 120.56 L548.77 121.14 L549.18 121.73 L549.59 122.3 L550 122.87 L550.41 123.43 L550.82 123.98 L551.23 124.53 L551.64 125.08 L552.05 125.61 L552.46 126.15 L552.87 126.67 L553.28 127.19 L553.69 127.71 L554.1 128.22 L554.51 128.72 L554.92 129.22 L555.33 129.71 L555.74 130.2 L556.15 130.68 L556.56 131.16 L556.97 131.64 L557.38 132.11 L557.79 132.57 L558.2 133.03 L558.61 133.48 L559.02 133.94 L559.43 134.38 L559.84 134.82 L560.25 135.26 L560.66 135.69 L561.07 136.12 L561.48 136.55 L561.89 136.97 L562.3 137.38 L562.71 137.8 L563.12 138.21 L563.53 138.61 L563.94 139.01 L564.35 139.41 L564.76 139.8 L565.17 140.19 L565.58 140.58 L565.99 140.96 L566.4 141.34 L566.81 141.72 L567.22 142.09 L567.63 142.46 L568.04 142.83 L568.45 143.19 L568.86 143.55 L569.27 143.91 L569.68 144.26 L570.09 144.61 L570.5 144.96 L570.91 145.3 L571.32 145.64 L571.73 145.98 L572.14 146.32 L572.55 146.65 L572.96 146.98 L573.37 147.3 L573.78 147.63 L574.19 147.95 L574.6 148.27 L575.01 148.59 L575.42 148.9 L575.83 149.21 L576.24 149.52 L576.65 149.82 L577.06 150.13 L577.47 150.43 L577.88 150.73 L578.29 151.02 L578.7 151.32 L579.11 151.61 L579.52 151.9 L579.93 152.18 L580.34 152.47 L580.75 152.75 L581.16 153.03 L581.57 153.31 L581.98 153.58 L582.39 153.86 L582.8 154.13 L583.21 154.4 L583.62 154.67 L584.03 154.93 L584.44 155.19 L584.85 155.46 L585.26 155.71 L585.67 155.97 L586.08 156.23 L586.49 156.48 L586.9 156.73 L587.31 156.98 L587.72 157.23 L588.13 157.48 L588.54 157.72 L588.95 157.96 L589.36 158.2 L589.77 158.44 L590.18 158.68 L590.59 158.92 L591 159.15 L591.41 159.38 L591.82 159.61 L592.23 159.84 L592.64 160.07 L593.05 160.3 L593.46 160.52 L593.87 160.74 L594.28 160.96 L594.69 161.18 L595.11 161.4 L595.52 161.62 L595.93 161.83 L596.34 162.05 L596.75 162.26 L597.16 162.47 L597.57 162.68 L597.98 162.89 L598.39 163.09 L598.8 163.3 L599.21 163.5 L599.62 163.71 L600.03 163.91 L600.44 164.11 L600.85 164.3 L601.26 164.5 L601.67 164.7 L602.08 164.89 L602.49 165.09 L602.9 165.28 L603.31 165.47 L603.72 165.66 L604.13 165.85 L604.54 166.03 L604.95 166.22 L605.36 166.4 L605.77 166.59 L606.18 166.77 L606.59 166.95 L607 167.13 L607.41 167.31 L607.82 167.49 L608.23 167.67 L608.64 167.84 L609.05 168.02 L609.46 168.19 L609.87 168.36 L610.28 168.53 L610.69 168.7 L611.1 168.87 L611.51 169.04 L611.92 169.21 L612.33 169.37 L612.74 169.54 L613.15 169.7 L613.56 169.87 L613.97 170.03 L614.38 170.19 L614.79 170.35 L615.2 170.51 L615.61 170.67 L616.02 170.83 L616.43 170.98 L616.84 171.14 L617.25 171.29 L617.66 171.45 L618.07 171.6 L618.48 171.75 L618.89 171.91 L619.3 172.06 L619.71 172.21 L620.12 172.35 L620.53 172.5 L620.94 172.65 L621.35 172.8 L621.76 172.94 L622.17 173.09 L622.58 173.23 L622.99 173.37 L623.4 173.51 L623.81 173.66 L624.22 173.8 L624.63 173.94 L625.04 174.07 L625.45 174.21 L625.86 174.35 L626.27 174.49 L626.68 174.62 L627.09 174.76 L627.5 174.89 L627.91 175.03 L628.32 175.16 L628.73 175.29 L629.14 175.42 L629.55 175.56 L629.96 175.69 L630.37 175.82 L630.78 175.94 L631.19 176.07 L631.6 176.2 L632.01 176.33 L632.42 176.45 L632.83 176.58 L633.24 176.7 L633.65 176.83 L634.06 176.95 L634.47 177.07 L634.88 177.2 L635.29 177.32 L635.7 177.44 L636.11 177.56 L636.52 177.68 L636.93 177.8 L637.34 177.92 L637.75 178.04 L638.16 178.15 L638.57 178.27 L638.98 178.39 L639.39 178.5 L639.8 178.62 L640.21 178.73 L640.62 178.84 L641.03 178.96 L641.44 179.07 L641.85 179.18 L642.26 179.29 L642.67 179.41 L643.08 179.52 L643.49 179.63 L643.9 179.74 L644.31 179.84 L644.72 179.95 L645.13 180.06 L645.54 180.17 L645.95 180.28 L646.36 180.38 L646.77 180.49 L647.18 180.59 L647.59 180.7 L648 180.8 L648.41 180.91 L648.82 181.01 L649.23 181.11 L649.64 181.21 L650.05 181.32 L650.46 181.42 L650.87 181.52 L651.28 181.62 L651.69 181.72 L652.1 181.82 L652.51 181.92 L652.92 182.02 L653.33 182.11 L653.74 182.21 L654.15 182.31 L654.56 182.41 L654.97 182.5 L655.38 182.6 L655.79 182.69 L656.2 182.79 L656.61 182.88 L657.02 182.98 L657.43 183.07 L657.84 183.16 L658.25 183.26 L658.66 183.35 L659.07 183.44 L659.48 183.53 L659.89 183.62 L660.3 183.71 L660.71 183.81 L661.12 183.9 L661.53 183.98 L661.94 184.07 L662.35 184.16 L662.76 184.25 L663.17 184.34 L663.58 184.43 L663.99 184.51 L664.4 184.6 L664.81 184.69 L665.22 184.77 L665.63 184.86 L666.04 184.95 L666.45 185.03 L666.86 185.11 L667.27 185.2 L667.68 185.28 L668.09 185.37 L668.5 185.45 L668.91 185.53 L669.32 185.62 L669.73 185.7 L670.14 185.78 L670.55 185.86 L670.96 185.94 L671.37 186.02 L671.78 186.1 L672.19 186.18 L672.6 186.26 L673.01 186.34 L673.42 186.42 L673.83 186.5 L674.24 186.58 L674.65 186.66 L675.06 186.73 L675.47 186.81 L675.88 186.89 L676.29 186.97 L676.7 187.04 M544.56 21.1 L544.89 22.25 L545.22 23.39 L545.56 24.51 L545.89 25.62 L546.22 26.72 L546.55 27.8 L546.88 28.88 L547.21 29.93 L547.54 30.98 L547.87 32.02 L548.2 33.04 L548.54 34.05 L548.87 35.05 L549.2 36.04 L549.53 37.01 L549.86 37.98 L550.19 38.93 L550.52 39.88 L550.85 40.81 L551.19 41.74 L551.52 42.65 L551.85 43.56 L552.18 44.45 L552.51 45.34 L552.84 46.21 L553.17 47.08 L553.5 47.93 L553.83 48.78 L554.17 49.62 L554.5 50.45 L554.83 51.27 L555.16 52.09 L555.49 52.89 L555.82 53.69 L556.15 54.48 L556.48 55.26 L556.81 56.03 L557.15 56.8 L557.48 57.56 L557.81 58.31 L558.14 59.05 L558.47 59.79 L558.8 60.52 L559.13 61.24 L559.46 61.95 L559.8 62.66 L560.13 63.36 L560.46 64.06 L560.79 64.74 L561.12 65.43 L561.45 66.1 L561.78 66.77 L562.11 67.43 L562.44 68.09 L562.78 68.74 L563.11 69.38 L563.44 70.02 L563.77 70.66 L564.1 71.28 L564.43 71.9 L564.76 72.52 L565.09 73.13 L565.43 73.74 L565.76 74.34 L566.09 74.93 L566.42 75.52 L566.75 76.1 L567.08 76.68 L567.41 77.26 L567.74 77.83 L568.07 78.39 L568.41 78.95 L568.74 79.51 L569.07 80.06 L569.4 80.6 L569.73 81.14 L570.06 81.68 L570.39 82.21 L570.72 82.74 L571.06 83.26 L571.39 83.78 L571.72 84.3 L572.05 84.81 L572.38 85.31 L572.71 85.82 L573.04 86.31 L573.37 86.81 L573.7 87.3 L574.04 87.79 L574.37 88.27 L574.7 88.75 L575.03 89.22 L575.36 89.69 L575.69 90.16 L576.02 90.62 L576.35 91.09 L576.69 91.54 L577.02 92 L577.35 92.45 L577.68 92.89 L578.01 93.34 L578.34 93.78 L578.67 94.21 L579 94.65 L579.33 95.08 L579.67 95.5 L580 95.93 L580.33 96.35 L580.66 96.76 L580.99 97.18 L581.32 97.59 L581.65 98 L581.98 98.4 L582.32 98.81 L582.65 99.21 L582.98 99.6 L583.31 100 L583.64 100.39 L583.97 100.78 L584.3 101.16 L584.63 101.54 L584.96 101.92 L585.3 102.3 L585.63 102.68 L585.96 103.05 L586.29 103.42 L586.62 103.79 L586.95 104.15 L587.28 104.51 L587.61 104.87 L587.95 105.23 L588.28 105.58 L588.61 105.94 L588.94 106.29 L589.27 106.63 L589.6 106.98 L589.93 107.32 L590.26 107.66 L590.59 108 L590.93 108.34 L591.26 108.67 L591.59 109 L591.92 109.33 L592.25 109.66 L592.58 109.99 L592.91 110.31 L593.24 110.63 L593.58 110.95 L593.91 111.27 L594.24 111.58 L594.57 111.89 L594.9 112.21 L595.23 112.51 L595.56 112.82 L595.89 113.13 L596.22 113.43 L596.56 113.73 L596.89 114.03 L597.22 114.33 L597.55 114.63 L597.88 114.92 L598.21 115.21 L598.54 115.5 L598.87 115.79 L599.21 116.08 L599.54 116.36 L599.87 116.65 L600.2 116.93 L600.53 117.21 L600.86 117.49 L601.19 117.76 L601.52 118.04 L601.85 118.31 L602.19 118.58 L602.52 118.85 L602.85 119.12 L603.18 119.39 L603.51 119.65 L603.84 119.92 L604.17 120.18 L604.5 120.44 L604.84 120.7 L605.17 120.96 L605.5 121.21 L605.83 121.47 L606.16 121.72 L606.49 121.97 L606.82 122.22 L607.15 122.47 L607.48 122.72 L607.82 122.97 L608.15 123.21 L608.48 123.45 L608.81 123.7 L609.14 123.94 L609.47 124.18 L609.8 124.42 L610.13 124.65 L610.47 124.89 L610.8 125.12 L611.13 125.35 L611.46 125.59 L611.79 125.82 L612.12 126.05 L612.45 126.27 L612.78 126.5 L613.11 126.72 L613.45 126.95 L613.78 127.17 L614.11 127.39 L614.44 127.61 L614.77 127.83 L615.1 128.05 L615.43 128.27 L615.76 128.48 L616.1 128.7 L616.43 128.91 L616.76 129.13 L617.09 129.34 L617.42 129.55 L617.75 129.76 L618.08 129.96 L618.41 130.17 L618.74 130.38 L619.08 130.58 L619.41 130.79 L619.74 130.99 L620.07 131.19 L620.4 131.39 L620.73 131.59 L621.06 131.79 L621.39 131.99 L621.73 132.18 L622.06 132.38 L622.39 132.57 L622.72 132.77 L623.05 132.96 L623.38 133.15 L623.71 133.34 L624.04 133.53 L624.37 133.72 L624.71 133.91 L625.04 134.1 L625.37 134.28 L625.7 134.47 L626.03 134.65 L626.36 134.84 L626.69 135.02 L627.02 135.2 L627.36 135.38 L627.69 135.56 L628.02 135.74 L628.35 135.92 L628.68 136.1 L629.01 136.27 L629.34 136.45 L629.67 136.62 L630 136.8 L630.34 136.97 L630.67 137.14 L631 137.31 L631.33 137.49 L631.66 137.66 L631.99 137.82 L632.32 137.99 L632.65 138.16 L632.99 138.33 L633.32 138.49 L633.65 138.66 L633.98 138.82 L634.31 138.99 L634.64 139.15 L634.97 139.31 L635.3 139.47 L635.63 139.63 L635.97 139.79 L636.3 139.95 L636.63 140.11 L636.96 140.27 L637.29 140.43 L637.62 140.58 L637.95 140.74 L638.28 140.89 L638.61 141.05 L638.95 141.2 L639.28 141.35 L639.61 141.51 L639.94 141.66 L640.27 141.81 L640.6 141.96 L640.93 142.11 L641.26 142.26 L641.6 142.41 L641.93 142.55 L642.26 142.7 L642.59 142.85 L642.92 142.99 L643.25 143.14 L643.58 143.28 L643.91 143.43 L644.24 143.57 L644.58 143.71 L644.91 143.85 L645.24 144 L645.57 144.14 L645.9 144.28 L646.23 144.42 L646.56 144.56 L646.89 144.69 L647.23 144.83 L647.56 144.97 L647.89 145.11 L648.22 145.24 L648.55 145.38 L648.88 145.51 L649.21 145.65 L649.54 145.78 L649.87 145.91 L650.21 146.05 L650.54 146.18 L650.87 146.31 L651.2 146.44 L651.53 146.57 L651.86 146.7 L652.19 146.83 L652.52 146.96 L652.86 147.09 L653.19 147.22 L653.52 147.34 L653.85 147.47 L654.18 147.6 L654.51 147.72 L654.84 147.85 L655.17 147.97 L655.5 148.1 L655.84 148.22 L656.17 148.34 L656.5 148.47 L656.83 148.59 L657.16 148.71 L657.49 148.83 L657.82 148.95 L658.15 149.07 L658.49 149.19 L658.82 149.31 L659.15 149.43 L659.48 149.55 L659.81 149.67 L660.14 149.79 L660.47 149.9 L660.8 150.02 L661.13 150.14 L661.47 150.25 L661.8 150.37 L662.13 150.48 L662.46 150.6 L662.79 150.71 L663.12 150.82 L663.45 150.94 L663.78 151.05 L664.12 151.16 L664.45 151.27 L664.78 151.38 L665.11 151.5 L665.44 151.61 L665.77 151.72 L666.1 151.83 L666.43 151.94 L666.76 152.04 L667.1 152.15 L667.43 152.26 L667.76 152.37 L668.09 152.48 L668.42 152.58 L668.75 152.69 L669.08 152.8 L669.41 152.9 L669.75 153.01 L670.08 153.11 L670.41 153.22 L670.74 153.32 L671.07 153.42 L671.4 153.53 L671.73 153.63 L672.06 153.73 L672.39 153.83 L672.73 153.94 L673.06 154.04 L673.39 154.14 L673.72 154.24 L674.05 154.34 L674.38 154.44 L674.71 154.54 L675.04 154.64 L675.38 154.74 L675.71 154.84 L676.04 154.94 L676.37 155.03 L676.7 155.13 M581.27 21.1 L581.51 21.64 L581.75 22.18 L581.98 22.72 L582.22 23.26 L582.46 23.79 L582.7 24.31 L582.94 24.84 L583.18 25.36 L583.42 25.88 L583.66 26.39 L583.9 26.9 L584.14 27.41 L584.38 27.92 L584.62 28.42 L584.85 28.92 L585.09 29.42 L585.33 29.91 L585.57 30.4 L585.81 30.89 L586.05 31.37 L586.29 31.86 L586.53 32.33 L586.77 32.81 L587.01 33.28 L587.25 33.76 L587.49 34.22 L587.72 34.69 L587.96 35.15 L588.2 35.61 L588.44 36.07 L588.68 36.52 L588.92 36.98 L589.16 37.43 L589.4 37.87 L589.64 38.32 L589.88 38.76 L590.12 39.2 L590.36 39.64 L590.59 40.07 L590.83 40.5 L591.07 40.93 L591.31 41.36 L591.55 41.79 L591.79 42.21 L592.03 42.63 L592.27 43.05 L592.51 43.46 L592.75 43.88 L592.99 44.29 L593.23 44.7 L593.46 45.1 L593.7 45.51 L593.94 45.91 L594.18 46.31 L594.42 46.71 L594.66 47.11 L594.9 47.5 L595.14 47.89 L595.38 48.28 L595.62 48.67 L595.86 49.06 L596.1 49.44 L596.34 49.82 L596.57 50.2 L596.81 50.58 L597.05 50.95 L597.29 51.33 L597.53 51.7 L597.77 52.07 L598.01 52.44 L598.25 52.8 L598.49 53.17 L598.73 53.53 L598.97 53.89 L599.21 54.25 L599.44 54.61 L599.68 54.96 L599.92 55.32 L600.16 55.67 L600.4 56.02 L600.64 56.37 L600.88 56.71 L601.12 57.06 L601.36 57.4 L601.6 57.74 L601.84 58.08 L602.08 58.42 L602.31 58.76 L602.55 59.09 L602.79 59.42 L603.03 59.75 L603.27 60.08 L603.51 60.41 L603.75 60.74 L603.99 61.06 L604.23 61.39 L604.47 61.71 L604.71 62.03 L604.95 62.35 L605.18 62.66 L605.42 62.98 L605.66 63.29 L605.9 63.61 L606.14 63.92 L606.38 64.23 L606.62 64.54 L606.86 64.84 L607.1 65.15 L607.34 65.45 L607.58 65.76 L607.82 66.06 L608.05 66.36 L608.29 66.66 L608.53 66.95 L608.77 67.25 L609.01 67.54 L609.25 67.84 L609.49 68.13 L609.73 68.42 L609.97 68.71 L610.21 68.99 L610.45 69.28 L610.69 69.57 L610.93 69.85 L611.16 70.13 L611.4 70.41 L611.64 70.69 L611.88 70.97 L612.12 71.25 L612.36 71.53 L612.6 71.8 L612.84 72.07 L613.08 72.35 L613.32 72.62 L613.56 72.89 L613.8 73.16 L614.03 73.43 L614.27 73.69 L614.51 73.96 L614.75 74.22 L614.99 74.49 L615.23 74.75 L615.47 75.01 L615.71 75.27 L615.95 75.53 L616.19 75.78 L616.43 76.04 L616.67 76.3 L616.9 76.55 L617.14 76.8 L617.38 77.06 L617.62 77.31 L617.86 77.56 L618.1 77.81 L618.34 78.05 L618.58 78.3 L618.82 78.55 L619.06 78.79 L619.3 79.03 L619.54 79.28 L619.77 79.52 L620.01 79.76 L620.25 80 L620.49 80.24 L620.73 80.48 L620.97 80.71 L621.21 80.95 L621.45 81.18 L621.69 81.42 L621.93 81.65 L622.17 81.88 L622.41 82.11 L622.65 82.34 L622.88 82.57 L623.12 82.8 L623.36 83.03 L623.6 83.25 L623.84 83.48 L624.08 83.7 L624.32 83.93 L624.56 84.15 L624.8 84.37 L625.04 84.59 L625.28 84.81 L625.52 85.03 L625.75 85.25 L625.99 85.47 L626.23 85.68 L626.47 85.9 L626.71 86.11 L626.95 86.33 L627.19 86.54 L627.43 86.75 L627.67 86.97 L627.91 87.18 L628.15 87.39 L628.39 87.6 L628.62 87.8 L628.86 88.01 L629.1 88.22 L629.34 88.42 L629.58 88.63 L629.82 88.83 L630.06 89.04 L630.3 89.24 L630.54 89.44 L630.78 89.64 L631.02 89.84 L631.26 90.04 L631.49 90.24 L631.73 90.44 L631.97 90.64 L632.21 90.84 L632.45 91.03 L632.69 91.23 L632.93 91.42 L633.17 91.61 L633.41 91.81 L633.65 92 L633.89 92.19 L634.13 92.38 L634.36 92.57 L634.6 92.76 L634.84 92.95 L635.08 93.14 L635.32 93.33 L635.56 93.51 L635.8 93.7 L636.04 93.89 L636.28 94.07 L636.52 94.25 L636.76 94.44 L637 94.62 L637.24 94.8 L637.47 94.98 L637.71 95.16 L637.95 95.34 L638.19 95.52 L638.43 95.7 L638.67 95.88 L638.91 96.06 L639.15 96.24 L639.39 96.41 L639.63 96.59 L639.87 96.76 L640.11 96.94 L640.34 97.11 L640.58 97.28 L640.82 97.46 L641.06 97.63 L641.3 97.8 L641.54 97.97 L641.78 98.14 L642.02 98.31 L642.26 98.48 L642.5 98.65 L642.74 98.82 L642.98 98.98 L643.21 99.15 L643.45 99.32 L643.69 99.48 L643.93 99.65 L644.17 99.81 L644.41 99.97 L644.65 100.14 L644.89 100.3 L645.13 100.46 L645.37 100.62 L645.61 100.78 L645.85 100.95 L646.08 101.11 L646.32 101.26 L646.56 101.42 L646.8 101.58 L647.04 101.74 L647.28 101.9 L647.52 102.05 L647.76 102.21 L648 102.37 L648.24 102.52 L648.48 102.68 L648.72 102.83 L648.95 102.98 L649.19 103.14 L649.43 103.29 L649.67 103.44 L649.91 103.59 L650.15 103.74 L650.39 103.89 L650.63 104.04 L650.87 104.19 L651.11 104.34 L651.35 104.49 L651.59 104.64 L651.83 104.79 L652.06 104.93 L652.3 105.08 L652.54 105.23 L652.78 105.37 L653.02 105.52 L653.26 105.66 L653.5 105.81 L653.74 105.95 L653.98 106.1 L654.22 106.24 L654.46 106.38 L654.7 106.52 L654.93 106.66 L655.17 106.81 L655.41 106.95 L655.65 107.09 L655.89 107.23 L656.13 107.37 L656.37 107.5 L656.61 107.64 L656.85 107.78 L657.09 107.92 L657.33 108.06 L657.57 108.19 L657.8 108.33 L658.04 108.46 L658.28 108.6 L658.52 108.74 L658.76 108.87 L659 109 L659.24 109.14 L659.48 109.27 L659.72 109.4 L659.96 109.54 L660.2 109.67 L660.44 109.8 L660.67 109.93 L660.91 110.06 L661.15 110.19 L661.39 110.32 L661.63 110.45 L661.87 110.58 L662.11 110.71 L662.35 110.84 L662.59 110.97 L662.83 111.1 L663.07 111.22 L663.31 111.35 L663.55 111.48 L663.78 111.6 L664.02 111.73 L664.26 111.86 L664.5 111.98 L664.74 112.11 L664.98 112.23 L665.22 112.35 L665.46 112.48 L665.7 112.6 L665.94 112.72 L666.18 112.85 L666.42 112.97 L666.65 113.09 L666.89 113.21 L667.13 113.33 L667.37 113.45 L667.61 113.57 L667.85 113.69 L668.09 113.81 L668.33 113.93 L668.57 114.05 L668.81 114.17 L669.05 114.29 L669.29 114.41 L669.52 114.52 L669.76 114.64 L670 114.76 L670.24 114.88 L670.48 114.99 L670.72 115.11 L670.96 115.22 L671.2 115.34 L671.44 115.45 L671.68 115.57 L671.92 115.68 L672.16 115.8 L672.39 115.91 L672.63 116.02 L672.87 116.14 L673.11 116.25 L673.35 116.36 L673.59 116.47 L673.83 116.58 L674.07 116.7 L674.31 116.81 L674.55 116.92 L674.79 117.03 L675.03 117.14 L675.26 117.25 L675.5 117.36 L675.74 117.47 L675.98 117.58 L676.22 117.68 L676.46 117.79 L676.7 117.9 M624.65 21.1 L624.78 21.3 L624.91 21.49 L625.04 21.69 L625.17 21.89 L625.3 22.08 L625.43 22.28 L625.56 22.47 L625.69 22.67 L625.82 22.86 L625.95 23.05 L626.08 23.25 L626.21 23.44 L626.34 23.63 L626.47 23.82 L626.6 24.01 L626.73 24.2 L626.86 24.39 L626.99 24.58 L627.12 24.77 L627.25 24.96 L627.39 25.15 L627.52 25.33 L627.65 25.52 L627.78 25.71 L627.91 25.89 L628.04 26.08 L628.17 26.26 L628.3 26.45 L628.43 26.63 L628.56 26.82 L628.69 27 L628.82 27.18 L628.95 27.37 L629.08 27.55 L629.21 27.73 L629.34 27.91 L629.47 28.09 L629.6 28.27 L629.73 28.45 L629.86 28.63 L629.99 28.81 L630.12 28.99 L630.26 29.17 L630.39 29.35 L630.52 29.53 L630.65 29.7 L630.78 29.88 L630.91 30.06 L631.04 30.23 L631.17 30.41 L631.3 30.58 L631.43 30.76 L631.56 30.93 L631.69 31.11 L631.82 31.28 L631.95 31.45 L632.08 31.63 L632.21 31.8 L632.34 31.97 L632.47 32.14 L632.6 32.31 L632.73 32.48 L632.86 32.65 L633 32.82 L633.13 32.99 L633.26 33.16 L633.39 33.33 L633.52 33.5 L633.65 33.67 L633.78 33.83 L633.91 34 L634.04 34.17 L634.17 34.33 L634.3 34.5 L634.43 34.67 L634.56 34.83 L634.69 35 L634.82 35.16 L634.95 35.33 L635.08 35.49 L635.21 35.65 L635.34 35.82 L635.47 35.98 L635.6 36.14 L635.73 36.3 L635.87 36.46 L636 36.63 L636.13 36.79 L636.26 36.95 L636.39 37.11 L636.52 37.27 L636.65 37.43 L636.78 37.59 L636.91 37.75 L637.04 37.9 L637.17 38.06 L637.3 38.22 L637.43 38.38 L637.56 38.53 L637.69 38.69 L637.82 38.85 L637.95 39 L638.08 39.16 L638.21 39.31 L638.34 39.47 L638.47 39.62 L638.6 39.78 L638.74 39.93 L638.87 40.09 L639 40.24 L639.13 40.39 L639.26 40.54 L639.39 40.7 L639.52 40.85 L639.65 41 L639.78 41.15 L639.91 41.3 L640.04 41.45 L640.17 41.6 L640.3 41.75 L640.43 41.9 L640.56 42.05 L640.69 42.2 L640.82 42.35 L640.95 42.5 L641.08 42.65 L641.21 42.8 L641.34 42.94 L641.48 43.09 L641.61 43.24 L641.74 43.38 L641.87 43.53 L642 43.68 L642.13 43.82 L642.26 43.97 L642.39 44.11 L642.52 44.26 L642.65 44.4 L642.78 44.54 L642.91 44.69 L643.04 44.83 L643.17 44.97 L643.3 45.12 L643.43 45.26 L643.56 45.4 L643.69 45.54 L643.82 45.69 L643.95 45.83 L644.08 45.97 L644.21 46.11 L644.35 46.25 L644.48 46.39 L644.61 46.53 L644.74 46.67 L644.87 46.81 L645 46.95 L645.13 47.09 L645.26 47.22 L645.39 47.36 L645.52 47.5 L645.65 47.64 L645.78 47.78 L645.91 47.91 L646.04 48.05 L646.17 48.19 L646.3 48.32 L646.43 48.46 L646.56 48.59 L646.69 48.73 L646.82 48.86 L646.95 49 L647.09 49.13 L647.22 49.27 L647.35 49.4 L647.48 49.54 L647.61 49.67 L647.74 49.8 L647.87 49.93 L648 50.07 L648.13 50.2 L648.26 50.33 L648.39 50.46 L648.52 50.59 L648.65 50.73 L648.78 50.86 L648.91 50.99 L649.04 51.12 L649.17 51.25 L649.3 51.38 L649.43 51.51 L649.56 51.64 L649.69 51.77 L649.82 51.9 L649.96 52.02 L650.09 52.15 L650.22 52.28 L650.35 52.41 L650.48 52.54 L650.61 52.66 L650.74 52.79 L650.87 52.92 L651 53.04 L651.13 53.17 L651.26 53.3 L651.39 53.42 L651.52 53.55 L651.65 53.67 L651.78 53.8 L651.91 53.92 L652.04 54.05 L652.17 54.17 L652.3 54.3 L652.43 54.42 L652.56 54.55 L652.69 54.67 L652.83 54.79 L652.96 54.91 L653.09 55.04 L653.22 55.16 L653.35 55.28 L653.48 55.4 L653.61 55.53 L653.74 55.65 L653.87 55.77 L654 55.89 L654.13 56.01 L654.26 56.13 L654.39 56.25 L654.52 56.37 L654.65 56.49 L654.78 56.61 L654.91 56.73 L655.04 56.85 L655.17 56.97 L655.3 57.09 L655.43 57.21 L655.57 57.32 L655.7 57.44 L655.83 57.56 L655.96 57.68 L656.09 57.8 L656.22 57.91 L656.35 58.03 L656.48 58.15 L656.61 58.26 L656.74 58.38 L656.87 58.5 L657 58.61 L657.13 58.73 L657.26 58.84 L657.39 58.96 L657.52 59.07 L657.65 59.19 L657.78 59.3 L657.91 59.42 L658.04 59.53 L658.17 59.64 L658.3 59.76 L658.44 59.87 L658.57 59.98 L658.7 60.1 L658.83 60.21 L658.96 60.32 L659.09 60.43 L659.22 60.55 L659.35 60.66 L659.48 60.77 L659.61 60.88 L659.74 60.99 L659.87 61.11 L660 61.22 L660.13 61.33 L660.26 61.44 L660.39 61.55 L660.52 61.66 L660.65 61.77 L660.78 61.88 L660.91 61.99 L661.04 62.1 L661.17 62.21 L661.31 62.31 L661.44 62.42 L661.57 62.53 L661.7 62.64 L661.83 62.75 L661.96 62.86 L662.09 62.96 L662.22 63.07 L662.35 63.18 L662.48 63.29 L662.61 63.39 L662.74 63.5 L662.87 63.61 L663 63.71 L663.13 63.82 L663.26 63.92 L663.39 64.03 L663.52 64.14 L663.65 64.24 L663.78 64.35 L663.91 64.45 L664.05 64.56 L664.18 64.66 L664.31 64.77 L664.44 64.87 L664.57 64.97 L664.7 65.08 L664.83 65.18 L664.96 65.28 L665.09 65.39 L665.22 65.49 L665.35 65.59 L665.48 65.7 L665.61 65.8 L665.74 65.9 L665.87 66 L666 66.11 L666.13 66.21 L666.26 66.31 L666.39 66.41 L666.52 66.51 L666.65 66.61 L666.78 66.72 L666.92 66.82 L667.05 66.92 L667.18 67.02 L667.31 67.12 L667.44 67.22 L667.57 67.32 L667.7 67.42 L667.83 67.52 L667.96 67.62 L668.09 67.72 L668.22 67.81 L668.35 67.91 L668.48 68.01 L668.61 68.11 L668.74 68.21 L668.87 68.31 L669 68.4 L669.13 68.5 L669.26 68.6 L669.39 68.7 L669.52 68.8 L669.66 68.89 L669.79 68.99 L669.92 69.09 L670.05 69.18 L670.18 69.28 L670.31 69.38 L670.44 69.47 L670.57 69.57 L670.7 69.66 L670.83 69.76 L670.96 69.85 L671.09 69.95 L671.22 70.05 L671.35 70.14 L671.48 70.24 L671.61 70.33 L671.74 70.42 L671.87 70.52 L672 70.61 L672.13 70.71 L672.26 70.8 L672.39 70.89 L672.53 70.99 L672.66 71.08 L672.79 71.17 L672.92 71.27 L673.05 71.36 L673.18 71.45 L673.31 71.55 L673.44 71.64 L673.57 71.73 L673.7 71.82 L673.83 71.91 L673.96 72.01 L674.09 72.1 L674.22 72.19 L674.35 72.28 L674.48 72.37 L674.61 72.46 L674.74 72.55 L674.87 72.65 L675 72.74 L675.13 72.83 L675.26 72.92 L675.4 73.01 L675.53 73.1 L675.66 73.19 L675.79 73.28 L675.92 73.37 L676.05 73.46 L676.18 73.54 L676.31 73.63 L676.44 73.72 L676.57 73.81 L676.7 73.9" stroke="#808080" stroke-opacity="0.17" stroke-width="1" fill="none"/></g>
<text x="627.06" y="39.2" font-size="10.64" fill="#9a9a9a" stroke="#9a9a9a" stroke-width="0.25" textLength="35.99" lengthAdjust="spacingAndGlyphs">F1=0.9</text>
<text x="627.06" y="92.3" font-size="10.64" fill="#9a9a9a" stroke="#9a9a9a" stroke-width="0.25" textLength="35.96" lengthAdjust="spacingAndGlyphs">F1=0.8</text>
<text x="627.06" y="136" font-size="10.64" fill="#9a9a9a" stroke="#9a9a9a" stroke-width="0.25" textLength="35.86" lengthAdjust="spacingAndGlyphs">F1=0.7</text>
<text x="627.06" y="171.6" font-size="10.64" fill="#9a9a9a" stroke="#9a9a9a" stroke-width="0.25" textLength="36.02" lengthAdjust="spacingAndGlyphs">F1=0.6</text>
<text x="627.07" y="203" font-size="10.64" fill="#9a9a9a" stroke="#9a9a9a" stroke-width="0.25" textLength="35.75" lengthAdjust="spacingAndGlyphs">F1=0.5</text>
<text x="627.06" y="229" font-size="10.64" fill="#9a9a9a" stroke="#9a9a9a" stroke-width="0.25" textLength="35.92" lengthAdjust="spacingAndGlyphs">F1=0.4</text>
<text x="627.06" y="250" font-size="10.64" fill="#9a9a9a" stroke="#9a9a9a" stroke-width="0.25" textLength="35.84" lengthAdjust="spacingAndGlyphs">F1=0.3</text>
<text x="627.07" y="270.3" font-size="10.64" fill="#9a9a9a" stroke="#9a9a9a" stroke-width="0.25" textLength="35.71" lengthAdjust="spacingAndGlyphs">F1=0.2</text>
<text x="627.07" y="288.4" font-size="10.64" fill="#9a9a9a" stroke="#9a9a9a" stroke-width="0.25" textLength="35.78" lengthAdjust="spacingAndGlyphs">F1=0.1</text>
<g clip-path="url(#cb)" fill="none" stroke-width="1.55" stroke-linejoin="round" stroke-opacity="0.9">
<path d="M390.3 61.4 L396.7 59.2 L404.9 57.6 L410.7 59 L415.4 60.8 L423.5 62.5 L431.7 61.9 L435.2 62.5 L439.9 65.4 L449.2 67 L458.6 67.8 L462.1 69.5 L468.1 71 L482.4 73.1 L485.7 78 L498.8 78.6 L511.9 80.8 L520.7 83 L531.6 83 L533.8 91.7 L547 93.9 L560.1 95 L568.9 98.3 L578.7 100.5 L580.9 108.2 L595.1 109.3 L604.5 110.8 L607.6 119.5 L612.8 123 L618.7 123.6 L624.5 128.3 L630.4 131.2 L637.4 136 L644.4 141 L649 142.8 L654.9 145.2 L661.9 148.1 L667.7 151 L676.5 150.1" stroke="#440154"/>
<path d="M390.3 28.3 L399.7 27.9 L417.2 28.5 L424.2 29.4 L427.7 32 L446.4 31.4 L453.4 33.2 L462.7 34.1 L483.4 36.1 L485.7 38.8 L497.4 38.8 L502 40.2 L512.6 40.8 L518.4 43.7 L525.4 46 L532.4 47.2 L534.7 49.5 L558.4 51.3 L563 53.6 L574.7 55.1 L579.4 57.1 L590 58.5 L598 60.5 L600 63.4 L609.3 65.8 L617.5 67.5 L623.4 71 L632.7 72.8 L640.9 76.9 L646.7 78 L654.9 83.3 L664.2 93.2 L670.1 95 L676.5 96.1" stroke="#3b528b"/>
<path d="M390.3 29.7 L405.5 29.1 L423 30.3 L434.7 32 L452.2 32 L468 33.8 L489.2 33.4 L512.6 33.8 L530 34.4 L534.7 38.8 L540 39 L552.5 37.9 L570 39 L579.4 39.6 L581.7 41.9 L605 42.5 L607.4 44.3 L611.7 45.1 L621 48.6 L628 49.5 L632.7 52.5 L639.7 53.6 L646.7 57.6 L652.6 62.8 L658.4 65.8 L667.7 69.9 L676.5 69.3" stroke="#21918c"/>
<path d="M390.3 26.2 L399.7 25 L423 24.4 L445.2 24.1 L447.6 25.2 L463.9 25.6 L469.3 26.8 L503.2 26.4 L506.1 29.4 L532.4 30 L535.9 31.1 L560.7 32.6 L563.6 36.7 L581.7 37.3 L599.2 38.4 L618.7 39.6 L624.5 44.3 L630.4 46 L635 47.2 L646.7 49 L651.4 52.5 L658.4 53.6 L664.2 58 L676.5 58.8" stroke="#5ec962"/>
<path d="M390.3 29.1 L405.5 27.9 L420.7 27.3 L431.2 26.8 L444 27.9 L446.4 30.8 L460 30.8 L483.4 32.6 L506.7 33 L530 33.2 L534.7 37.3 L552.5 37.6 L570 39 L579.4 40.8 L581.1 44.3 L605 44.3 L611.7 45.8 L623.4 47.8 L635 50.1 L649 51.8 L654.9 54.7 L661.9 58.8 L676.5 59.1" stroke="#fde725"/>
<path d="M390.3 63.7 L396.7 61.4 L403.7 58.1 L411.9 59 L420 61.4 L425.9 63.1 L431.7 62.5 L436.4 63.7 L439.9 67.8 L449.2 69.3 L458.6 70.7 L463.2 73.6 L472.5 72 L485.7 77.5 L505.4 81.9 L531.6 85.8 L534.9 96.1 L549.2 97.7 L564.5 103.8 L577.6 106 L580.9 116.9 L590.8 118 L604.7 121.3 L607 130 L610.5 133.5 L617.5 136.5 L622.2 141.1 L628 143.4 L631.5 149.3 L638.5 154.5 L646.7 158.6 L651.4 163.9 L658.4 168.5 L664.2 171.5 L670.1 172.6 L676.5 172" stroke="#440154" stroke-dasharray="4.6 2"/>
<path d="M390.3 41.4 L399.7 39 L411.4 36.5 L423 35.5 L428.9 36.7 L437 38.4 L441.7 41.4 L449.9 40.8 L453.4 42.5 L462.7 43.9 L483.4 44.3 L485.7 48.1 L498.5 49.5 L509 51.9 L518.4 53 L530 55.4 L540 57.1 L551.9 57.7 L573.8 62.1 L584.7 67.5 L600 71.6 L605.8 74.5 L611.7 78 L618.7 79.8 L622.2 85 L626.9 92 L629.2 95 L638.5 102 L646.7 110.2 L650.2 120.7 L656.1 126.5 L661.9 132.4 L670.1 139.4 L676.5 141.7" stroke="#3b528b" stroke-dasharray="4.6 2"/>
<path d="M390.3 32.6 L405.5 31.4 L423 31.4 L440.6 33 L458 33 L468 33.2 L483.4 35.5 L496.2 37.3 L500.9 42.5 L512.6 44.3 L530 43.1 L534.7 45.4 L540 46 L558.4 46.6 L563 48.6 L577 49.3 L581.7 53 L593.4 54.8 L600 55.8 L611.7 61.1 L621 71.6 L626.9 74.5 L630.4 82.7 L638.5 90.3 L642 97.3 L649 104.3 L656.1 111.4 L661.9 116 L667.7 120.7 L676.5 121" stroke="#21918c" stroke-dasharray="4.6 2"/>
<path d="M390.3 32 L405.5 30 L417.2 30.3 L428.9 31.8 L440.6 32.6 L460 34.9 L495 35.5 L498.5 38.1 L518.4 38.8 L532.4 39 L534.7 41.4 L542 42.5 L552.5 43.9 L560.7 45.4 L570 49.5 L578.2 49.8 L581.7 53 L593.4 54.2 L600 55.3 L607 58.8 L618.7 62.3 L622.2 69.9 L629.2 72.2 L633.9 79.2 L639.7 87.4 L646.7 99 L654.9 106.7 L660.7 114.9 L666.6 120.7 L676.5 121.3" stroke="#5ec962" stroke-dasharray="4.6 2"/>
<path d="M390.3 34.4 L405.5 33.2 L423 32.2 L434.7 33.8 L446.4 36.1 L460 36.1 L489.2 37.9 L512.6 38.4 L530 38.8 L534.7 42.5 L544.3 43.5 L558.4 44.3 L567.7 46 L581.7 48.1 L593.4 50.1 L605 53 L611.7 55.8 L623.4 59.9 L628 64 L631.5 70.4 L637.4 76.9 L644.4 85 L650.2 90.9 L654.9 99 L661.9 110.2 L665.4 117.2 L670.1 117.8 L676.5 117.2" stroke="#fde725" stroke-dasharray="4.6 2"/>
</g>
<rect x="58.6" y="173.5" width="272.4" height="133.6" rx="2.5" fill="#ffffff" fill-opacity="0.8" stroke="#d9d9d9" stroke-width="1"/>
<path d="M61.5 179.9 H80.6" stroke="#440154" stroke-width="1.7" stroke-opacity="0.78"/>
<text x="87.08" y="183.6" font-size="10.09" fill="#444444" stroke="#444444" stroke-width="0.25" textLength="234.66" lengthAdjust="spacingAndGlyphs">EasIFA-ESM-bin - E.S.I. 0~40% [366] (AUC=0.9573)</text>
<path d="M61.5 193.1 H80.6" stroke="#3b528b" stroke-width="1.35" stroke-opacity="0.78"/>
<text x="87.08" y="196.8" font-size="10.09" fill="#444444" stroke="#444444" stroke-width="0.25" textLength="240.48" lengthAdjust="spacingAndGlyphs">EasIFA-ESM-bin - E.S.I. 40~50% [157] (AUC=0.9740)</text>
<path d="M61.5 206.3 H80.6" stroke="#21918c" stroke-width="1.35" stroke-opacity="0.78"/>
<text x="87.08" y="210" font-size="10.09" fill="#444444" stroke="#444444" stroke-width="0.25" textLength="240.48" lengthAdjust="spacingAndGlyphs">EasIFA-ESM-bin - E.S.I. 50~60% [131] (AUC=0.9900)</text>
<path d="M61.5 219.5 H80.6" stroke="#5ec962" stroke-width="1.35" stroke-opacity="0.78"/>
<text x="87.08" y="223.2" font-size="10.09" fill="#444444" stroke="#444444" stroke-width="0.25" textLength="240.48" lengthAdjust="spacingAndGlyphs">EasIFA-ESM-bin - E.S.I. 60~70% [109] (AUC=0.9870)</text>
<path d="M61.5 232.7 H80.6" stroke="#fde725" stroke-width="1.35" stroke-opacity="0.78"/>
<text x="87.08" y="236.4" font-size="10.09" fill="#444444" stroke="#444444" stroke-width="0.25" textLength="240.48" lengthAdjust="spacingAndGlyphs">EasIFA-ESM-bin - E.S.I. 70~80% [129] (AUC=0.9899)</text>
<path d="M61.5 245.9 H80.6" stroke="#440154" stroke-width="1.7" stroke-opacity="0.78" stroke-dasharray="4.6 2"/>
<text x="87.07" y="249.6" font-size="10.09" fill="#444444" stroke="#444444" stroke-width="0.25" textLength="220.97" lengthAdjust="spacingAndGlyphs">EasIFA-E-bin - E.S.I. 0~40% [366] (AUC=0.9567)</text>
<path d="M61.5 259.1 H80.6" stroke="#3b528b" stroke-width="1.35" stroke-opacity="0.78" stroke-dasharray="4.6 2"/>
<text x="87.07" y="262.8" font-size="10.09" fill="#444444" stroke="#444444" stroke-width="0.25" textLength="226.79" lengthAdjust="spacingAndGlyphs">EasIFA-E-bin - E.S.I. 40~50% [157] (AUC=0.9712)</text>
<path d="M61.5 272.3 H80.6" stroke="#21918c" stroke-width="1.35" stroke-opacity="0.78" stroke-dasharray="4.6 2"/>
<text x="87.07" y="276" font-size="10.09" fill="#444444" stroke="#444444" stroke-width="0.25" textLength="226.79" lengthAdjust="spacingAndGlyphs">EasIFA-E-bin - E.S.I. 50~60% [131] (AUC=0.9848)</text>
<path d="M61.5 285.5 H80.6" stroke="#5ec962" stroke-width="1.35" stroke-opacity="0.78" stroke-dasharray="4.6 2"/>
<text x="87.07" y="289.2" font-size="10.09" fill="#444444" stroke="#444444" stroke-width="0.25" textLength="226.79" lengthAdjust="spacingAndGlyphs">EasIFA-E-bin - E.S.I. 60~70% [109] (AUC=0.9846)</text>
<path d="M61.5 298.7 H80.6" stroke="#fde725" stroke-width="1.35" stroke-opacity="0.78" stroke-dasharray="4.6 2"/>
<text x="87.07" y="302.4" font-size="10.09" fill="#444444" stroke="#444444" stroke-width="0.25" textLength="226.79" lengthAdjust="spacingAndGlyphs">EasIFA-E-bin - E.S.I. 70~80% [129] (AUC=0.9851)</text>
<rect x="395.1" y="173.5" width="272.4" height="133.6" rx="2.5" fill="#ffffff" fill-opacity="0.8" stroke="#d9d9d9" stroke-width="1"/>
<path d="M398 179.9 H417.1" stroke="#440154" stroke-width="1.7" stroke-opacity="0.78"/>
<text x="423.58" y="183.6" font-size="10.09" fill="#444444" stroke="#444444" stroke-width="0.25" textLength="234.66" lengthAdjust="spacingAndGlyphs">EasIFA-ESM-bin - E.S.I. 0~40% [366] (AUC=0.7469)</text>
<path d="M398 193.1 H417.1" stroke="#3b528b" stroke-width="1.35" stroke-opacity="0.78"/>
<text x="423.58" y="196.8" font-size="10.09" fill="#444444" stroke="#444444" stroke-width="0.25" textLength="240.48" lengthAdjust="spacingAndGlyphs">EasIFA-ESM-bin - E.S.I. 40~50% [157] (AUC=0.8967)</text>
<path d="M398 206.3 H417.1" stroke="#21918c" stroke-width="1.35" stroke-opacity="0.78"/>
<text x="423.58" y="210" font-size="10.09" fill="#444444" stroke="#444444" stroke-width="0.25" textLength="240.48" lengthAdjust="spacingAndGlyphs">EasIFA-ESM-bin - E.S.I. 50~60% [131] (AUC=0.9336)</text>
<path d="M398 219.5 H417.1" stroke="#5ec962" stroke-width="1.35" stroke-opacity="0.78"/>
<text x="423.58" y="223.2" font-size="10.09" fill="#444444" stroke="#444444" stroke-width="0.25" textLength="240.48" lengthAdjust="spacingAndGlyphs">EasIFA-ESM-bin - E.S.I. 60~70% [109] (AUC=0.9547)</text>
<path d="M398 232.7 H417.1" stroke="#fde725" stroke-width="1.35" stroke-opacity="0.78"/>
<text x="423.58" y="236.4" font-size="10.09" fill="#444444" stroke="#444444" stroke-width="0.25" textLength="240.48" lengthAdjust="spacingAndGlyphs">EasIFA-ESM-bin - E.S.I. 70~80% [129] (AUC=0.9402)</text>
<path d="M398 245.9 H417.1" stroke="#440154" stroke-width="1.7" stroke-opacity="0.78" stroke-dasharray="4.6 2"/>
<text x="423.57" y="249.6" font-size="10.09" fill="#444444" stroke="#444444" stroke-width="0.25" textLength="220.97" lengthAdjust="spacingAndGlyphs">EasIFA-E-bin - E.S.I. 0~40% [366] (AUC=0.7243)</text>
<path d="M398 259.1 H417.1" stroke="#3b528b" stroke-width="1.35" stroke-opacity="0.78" stroke-dasharray="4.6 2"/>
<text x="423.57" y="262.8" font-size="10.09" fill="#444444" stroke="#444444" stroke-width="0.25" textLength="226.79" lengthAdjust="spacingAndGlyphs">EasIFA-E-bin - E.S.I. 40~50% [157] (AUC=0.8490)</text>
<path d="M398 272.3 H417.1" stroke="#21918c" stroke-width="1.35" stroke-opacity="0.78" stroke-dasharray="4.6 2"/>
<text x="423.57" y="276" font-size="10.09" fill="#444444" stroke="#444444" stroke-width="0.25" textLength="226.79" lengthAdjust="spacingAndGlyphs">EasIFA-E-bin - E.S.I. 50~60% [131] (AUC=0.8877)</text>
<path d="M398 285.5 H417.1" stroke="#5ec962" stroke-width="1.35" stroke-opacity="0.78" stroke-dasharray="4.6 2"/>
<text x="423.57" y="289.2" font-size="10.09" fill="#444444" stroke="#444444" stroke-width="0.25" textLength="226.79" lengthAdjust="spacingAndGlyphs">EasIFA-E-bin - E.S.I. 60~70% [109] (AUC=0.8956)</text>
<path d="M398 298.7 H417.1" stroke="#fde725" stroke-width="1.35" stroke-opacity="0.78" stroke-dasharray="4.6 2"/>
<text x="423.57" y="302.4" font-size="10.09" fill="#444444" stroke="#444444" stroke-width="0.25" textLength="226.79" lengthAdjust="spacingAndGlyphs">EasIFA-E-bin - E.S.I. 70~80% [129] (AUC=0.8991)</text>
<text x="41.69" y="325.8" font-size="10.12" fill="#444444" stroke="#444444" stroke-width="0.25" textLength="14.21" lengthAdjust="spacingAndGlyphs">0.0</text>
<text x="25.89" y="315.05" font-size="10.12" fill="#444444" stroke="#444444" stroke-width="0.25" textLength="14.21" lengthAdjust="spacingAndGlyphs">0.0</text>
<text x="99.19" y="325.8" font-size="10.12" fill="#444444" stroke="#444444" stroke-width="0.25" textLength="14" lengthAdjust="spacingAndGlyphs">0.2</text>
<text x="26.2" y="256.97" font-size="10.12" fill="#444444" stroke="#444444" stroke-width="0.25" textLength="14" lengthAdjust="spacingAndGlyphs">0.2</text>
<text x="156.33" y="325.8" font-size="10.12" fill="#444444" stroke="#444444" stroke-width="0.25" textLength="14.21" lengthAdjust="spacingAndGlyphs">0.4</text>
<text x="25.79" y="198.89" font-size="10.12" fill="#444444" stroke="#444444" stroke-width="0.25" textLength="14.21" lengthAdjust="spacingAndGlyphs">0.4</text>
<text x="213.7" y="325.8" font-size="10.12" fill="#444444" stroke="#444444" stroke-width="0.25" textLength="14.3" lengthAdjust="spacingAndGlyphs">0.6</text>
<text x="25.85" y="140.81" font-size="10.12" fill="#444444" stroke="#444444" stroke-width="0.25" textLength="14.3" lengthAdjust="spacingAndGlyphs">0.6</text>
<text x="271.06" y="325.8" font-size="10.12" fill="#444444" stroke="#444444" stroke-width="0.25" textLength="14.24" lengthAdjust="spacingAndGlyphs">0.8</text>
<text x="25.9" y="82.73" font-size="10.12" fill="#444444" stroke="#444444" stroke-width="0.25" textLength="14.24" lengthAdjust="spacingAndGlyphs">0.8</text>
<text x="328.22" y="325.8" font-size="10.12" fill="#444444" stroke="#444444" stroke-width="0.25" textLength="14.19" lengthAdjust="spacingAndGlyphs">1.0</text>
<text x="25.91" y="24.65" font-size="10.12" fill="#444444" stroke="#444444" stroke-width="0.25" textLength="14.19" lengthAdjust="spacingAndGlyphs">1.0</text>
<path d="M48.8 311.5 V316.1 M44.2 311.5 H48.8 M106.14 311.5 V316.1 M44.2 253.42 H48.8 M163.48 311.5 V316.1 M44.2 195.34 H48.8 M220.82 311.5 V316.1 M44.2 137.26 H48.8 M278.16 311.5 V316.1 M44.2 79.18 H48.8 M335.5 311.5 V316.1 M44.2 21.1 H48.8" stroke="#333333" stroke-width="1.1" fill="none"/>
<text x="383.29" y="325.8" font-size="10.12" fill="#444444" stroke="#444444" stroke-width="0.25" textLength="14.21" lengthAdjust="spacingAndGlyphs">0.0</text>
<text x="367.49" y="315.05" font-size="10.12" fill="#444444" stroke="#444444" stroke-width="0.25" textLength="14.21" lengthAdjust="spacingAndGlyphs">0.0</text>
<text x="440.71" y="325.8" font-size="10.12" fill="#444444" stroke="#444444" stroke-width="0.25" textLength="14" lengthAdjust="spacingAndGlyphs">0.2</text>
<text x="367.8" y="256.97" font-size="10.12" fill="#444444" stroke="#444444" stroke-width="0.25" textLength="14" lengthAdjust="spacingAndGlyphs">0.2</text>
<text x="497.77" y="325.8" font-size="10.12" fill="#444444" stroke="#444444" stroke-width="0.25" textLength="14.21" lengthAdjust="spacingAndGlyphs">0.4</text>
<text x="367.39" y="198.89" font-size="10.12" fill="#444444" stroke="#444444" stroke-width="0.25" textLength="14.21" lengthAdjust="spacingAndGlyphs">0.4</text>
<text x="555.06" y="325.8" font-size="10.12" fill="#444444" stroke="#444444" stroke-width="0.25" textLength="14.3" lengthAdjust="spacingAndGlyphs">0.6</text>
<text x="367.45" y="140.81" font-size="10.12" fill="#444444" stroke="#444444" stroke-width="0.25" textLength="14.3" lengthAdjust="spacingAndGlyphs">0.6</text>
<text x="612.34" y="325.8" font-size="10.12" fill="#444444" stroke="#444444" stroke-width="0.25" textLength="14.24" lengthAdjust="spacingAndGlyphs">0.8</text>
<text x="367.5" y="82.73" font-size="10.12" fill="#444444" stroke="#444444" stroke-width="0.25" textLength="14.24" lengthAdjust="spacingAndGlyphs">0.8</text>
<text x="669.42" y="325.8" font-size="10.12" fill="#444444" stroke="#444444" stroke-width="0.25" textLength="14.19" lengthAdjust="spacingAndGlyphs">1.0</text>
<text x="367.51" y="24.65" font-size="10.12" fill="#444444" stroke="#444444" stroke-width="0.25" textLength="14.19" lengthAdjust="spacingAndGlyphs">1.0</text>
<path d="M390.4 311.5 V316.1 M385.8 311.5 H390.4 M447.66 311.5 V316.1 M385.8 253.42 H390.4 M504.92 311.5 V316.1 M385.8 195.34 H390.4 M562.18 311.5 V316.1 M385.8 137.26 H390.4 M619.44 311.5 V316.1 M385.8 79.18 H390.4 M676.7 311.5 V316.1 M385.8 21.1 H390.4" stroke="#333333" stroke-width="1.1" fill="none"/>
<text x="143.32" y="16.2" font-size="10.7" fill="#444444" stroke="#444444" stroke-width="0.25" textLength="98.12" lengthAdjust="spacingAndGlyphs">Average ROC Curve</text>
<text x="456.73" y="16.2" font-size="10.7" fill="#444444" stroke="#444444" stroke-width="0.25" textLength="154.1" lengthAdjust="spacingAndGlyphs">Average Precision-Recall Curve</text>
<text x="145.79" y="339.4" font-size="10.7" fill="#444444" stroke="#444444" stroke-width="0.25" textLength="92.32" lengthAdjust="spacingAndGlyphs">False Positive Rate</text>
<text x="518.8" y="339.4" font-size="10.7" fill="#444444" stroke="#444444" stroke-width="0.25" textLength="29.35" lengthAdjust="spacingAndGlyphs">Recall</text>
<text transform="translate(20 0) rotate(-90)" x="-210.36" y="0" font-size="10.43" fill="#444444" stroke="#444444" stroke-width="0.25" textLength="87.05" lengthAdjust="spacingAndGlyphs">True Positive Rate</text>
<text transform="translate(362.7 0) rotate(-90)" x="-189.32" y="0" font-size="10.43" fill="#444444" stroke="#444444" stroke-width="0.25" textLength="43.26" lengthAdjust="spacingAndGlyphs">Precision</text>
<rect x="49" y="365.4" width="627.8" height="290.2" fill="none" stroke="#cccccc" stroke-width="1.1"/>
<rect x="80.39" y="575.26" width="31.39" height="81.34" fill="#447aa0" stroke="#fff" stroke-width="0.9"/>
<rect x="111.78" y="593.99" width="31.39" height="62.61" fill="#845a52" stroke="#fff" stroke-width="0.9"/>
<rect x="205.95" y="451.05" width="31.39" height="205.55" fill="#447aa0" stroke="#fff" stroke-width="0.9"/>
<rect x="237.34" y="490.6" width="31.39" height="166" fill="#845a52" stroke="#fff" stroke-width="0.9"/>
<rect x="331.51" y="420.46" width="31.39" height="236.14" fill="#447aa0" stroke="#fff" stroke-width="0.9"/>
<rect x="362.9" y="458.51" width="31.39" height="198.09" fill="#845a52" stroke="#fff" stroke-width="0.9"/>
<rect x="457.07" y="402.96" width="31.39" height="253.64" fill="#447aa0" stroke="#fff" stroke-width="0.9"/>
<rect x="488.46" y="451.96" width="31.39" height="204.64" fill="#845a52" stroke="#fff" stroke-width="0.9"/>
<rect x="582.63" y="414.98" width="31.39" height="241.62" fill="#447aa0" stroke="#fff" stroke-width="0.9"/>
<rect x="614.02" y="449.06" width="31.39" height="207.54" fill="#845a52" stroke="#fff" stroke-width="0.9"/>
<text x="111.74" y="581.36" font-size="10.56" fill="#1a1a1a" stroke="#1a1a1a" stroke-width="0.25" textLength="49.44" lengthAdjust="spacingAndGlyphs">Δ=0.0225</text>
<text x="237.3" y="457.15" font-size="10.56" fill="#1a1a1a" stroke="#1a1a1a" stroke-width="0.25" textLength="49.56" lengthAdjust="spacingAndGlyphs">Δ=0.0477</text>
<text x="362.86" y="426.56" font-size="10.56" fill="#1a1a1a" stroke="#1a1a1a" stroke-width="0.25" textLength="49.62" lengthAdjust="spacingAndGlyphs">Δ=0.0460</text>
<text x="488.42" y="409.06" font-size="10.56" fill="#1a1a1a" stroke="#1a1a1a" stroke-width="0.25" textLength="49.47" lengthAdjust="spacingAndGlyphs">Δ=0.0591</text>
<text x="613.98" y="421.08" font-size="10.56" fill="#1a1a1a" stroke="#1a1a1a" stroke-width="0.25" textLength="49.47" lengthAdjust="spacingAndGlyphs">Δ=0.0411</text>
<text x="20.43" y="659.15" font-size="10.12" fill="#444444" stroke="#444444" stroke-width="0.25" textLength="19.9" lengthAdjust="spacingAndGlyphs">0.65</text>
<text x="20.23" y="617.69" font-size="10.12" fill="#444444" stroke="#444444" stroke-width="0.25" textLength="20.07" lengthAdjust="spacingAndGlyphs">0.70</text>
<text x="20.43" y="576.24" font-size="10.12" fill="#444444" stroke="#444444" stroke-width="0.25" textLength="19.9" lengthAdjust="spacingAndGlyphs">0.75</text>
<text x="20.23" y="534.78" font-size="10.12" fill="#444444" stroke="#444444" stroke-width="0.25" textLength="20.07" lengthAdjust="spacingAndGlyphs">0.80</text>
<text x="20.43" y="493.32" font-size="10.12" fill="#444444" stroke="#444444" stroke-width="0.25" textLength="19.9" lengthAdjust="spacingAndGlyphs">0.85</text>
<text x="20.23" y="451.86" font-size="10.12" fill="#444444" stroke="#444444" stroke-width="0.25" textLength="20.07" lengthAdjust="spacingAndGlyphs">0.90</text>
<text x="20.43" y="410.41" font-size="10.12" fill="#444444" stroke="#444444" stroke-width="0.25" textLength="19.9" lengthAdjust="spacingAndGlyphs">0.95</text>
<text x="20.25" y="368.95" font-size="10.12" fill="#444444" stroke="#444444" stroke-width="0.25" textLength="20.05" lengthAdjust="spacingAndGlyphs">1.00</text>
<text x="81.22" y="670.6" font-size="10.12" fill="#444444" stroke="#444444" stroke-width="0.25" textLength="61.48" lengthAdjust="spacingAndGlyphs">0~40% [366]</text>
<text x="203.95" y="670.6" font-size="10.12" fill="#444444" stroke="#444444" stroke-width="0.25" textLength="67.31" lengthAdjust="spacingAndGlyphs">40~50% [157]</text>
<text x="329.45" y="670.6" font-size="10.12" fill="#444444" stroke="#444444" stroke-width="0.25" textLength="67.23" lengthAdjust="spacingAndGlyphs">50~60% [131]</text>
<text x="454.86" y="670.6" font-size="10.12" fill="#444444" stroke="#444444" stroke-width="0.25" textLength="67.42" lengthAdjust="spacingAndGlyphs">60~70% [109]</text>
<text x="580.47" y="670.6" font-size="10.12" fill="#444444" stroke="#444444" stroke-width="0.25" textLength="67.31" lengthAdjust="spacingAndGlyphs">70~80% [129]</text>
<path d="M44.4 655.6 H49 M44.4 614.14 H49 M44.4 572.69 H49 M44.4 531.23 H49 M44.4 489.77 H49 M44.4 448.31 H49 M44.4 406.86 H49 M44.4 365.4 H49 M111.78 655.6 V660.2 M237.34 655.6 V660.2 M362.9 655.6 V660.2 M488.46 655.6 V660.2 M614.02 655.6 V660.2" stroke="#333333" stroke-width="1.1" fill="none"/>
<text x="316.92" y="360.2" font-size="10.7" fill="#444444" stroke="#444444" stroke-width="0.25" textLength="91.55" lengthAdjust="spacingAndGlyphs">PR AUC Difference</text>
<text x="296.09" y="682.8" font-size="10.7" fill="#444444" stroke="#444444" stroke-width="0.25" textLength="132.72" lengthAdjust="spacingAndGlyphs">Enzyme Sequence Identity</text>
<text transform="translate(14.4 0) rotate(-90)" x="-529.12" y="0" font-size="10.43" fill="#444444" stroke="#444444" stroke-width="0.25" textLength="36.03" lengthAdjust="spacingAndGlyphs">PR AUC</text>
<rect x="570.6" y="370" width="101.6" height="28.9" rx="2.5" fill="#ffffff" fill-opacity="0.8" stroke="#d9d9d9" stroke-width="1"/>
<rect x="574.2" y="374.6" width="17.7" height="5.8" fill="#447aa0"/>
<rect x="574.2" y="387.9" width="17.7" height="5.8" fill="#845a52"/>
<text x="599.03" y="380" font-size="10.12" fill="#444444" stroke="#444444" stroke-width="0.25" textLength="69.64" lengthAdjust="spacingAndGlyphs">EasIFA-ESM-bin</text>
<text x="599.03" y="393.8" font-size="10.12" fill="#444444" stroke="#444444" stroke-width="0.25" textLength="55.87" lengthAdjust="spacingAndGlyphs">EasIFA-E-bin</text>
</g>
</svg>
</body></html>
